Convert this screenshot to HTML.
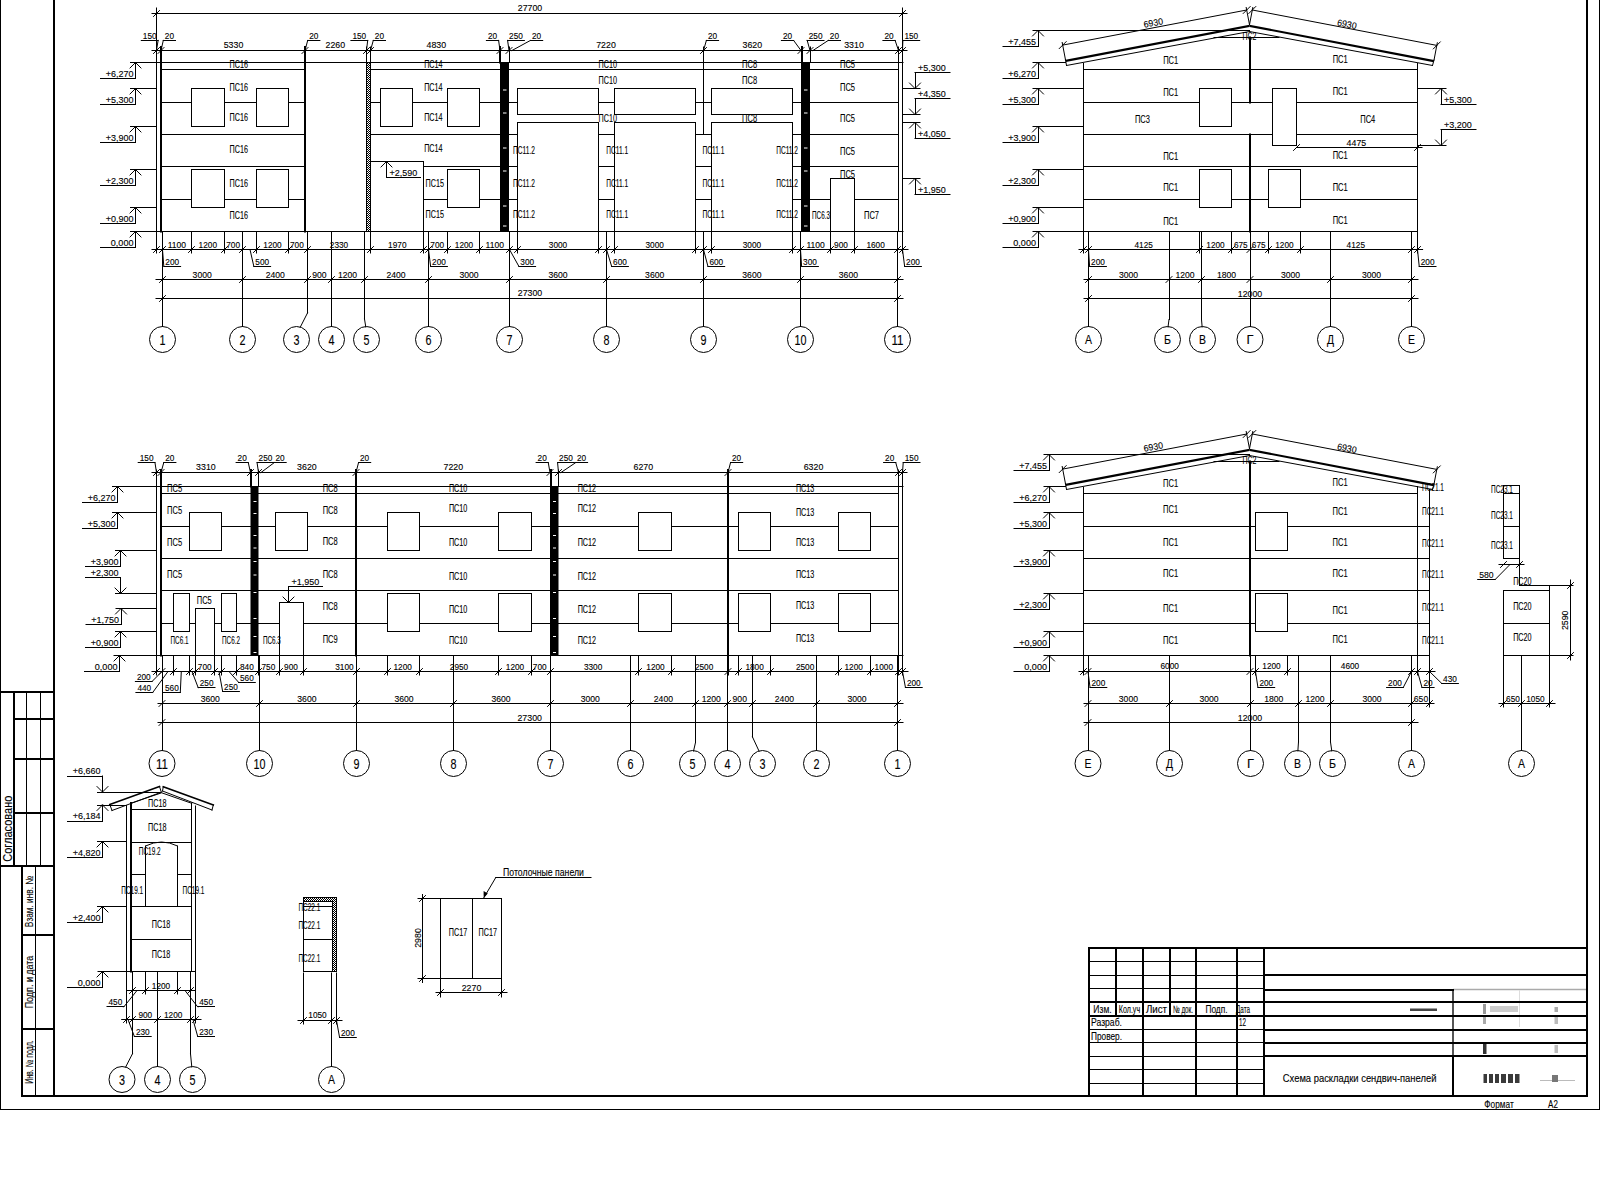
<!DOCTYPE html>
<html><head><meta charset="utf-8"><style>
html,body{margin:0;padding:0;background:#fff;}
svg{display:block;}
</style></head><body>
<svg width="1600" height="1184" viewBox="0 0 1600 1184">
<rect width="1600" height="1184" fill="#fff"/>
<path d="M1453 990L1453 1056" stroke="#555" stroke-width="2"/>
<path d="M1453 989.5L1587 989.5" stroke="#aaa" stroke-width="1.5"/>
<path d="M1519.5 990L1519.5 1027" stroke="#ddd" stroke-width="1"/>
<rect x="1410" y="1008.5" width="27" height="2.5" fill="#444"/>
<rect x="1483.5" y="1074" width="3.5" height="9" fill="#3a3a3a"/>
<rect x="1489" y="1074" width="4" height="9" fill="#3a3a3a"/>
<rect x="1495" y="1074" width="4" height="9" fill="#3a3a3a"/>
<rect x="1501" y="1074" width="5" height="9" fill="#3a3a3a"/>
<rect x="1508" y="1074" width="5" height="9" fill="#3a3a3a"/>
<rect x="1515" y="1074" width="4.5" height="9" fill="#3a3a3a"/>
<rect x="1540" y="1080" width="35" height="1" fill="#bbb"/>
<rect x="1552" y="1075" width="6" height="7" fill="#777"/>
<rect x="1483" y="1044" width="3.5" height="10" fill="#333"/>
<rect x="1483" y="1004" width="3" height="10" fill="#999"/>
<rect x="1483" y="1017" width="3" height="7" fill="#aaa"/>
<rect x="1490" y="1006" width="28" height="6" fill="#ccc"/>
<rect x="1554.5" y="1007" width="3.5" height="5" fill="#aaa"/>
<rect x="1554.5" y="1017" width="3.5" height="7" fill="#bbb"/>
<rect x="1554.5" y="1045" width="3.5" height="8" fill="#bbb"/>
<defs><pattern id="chk" width="2" height="2" patternUnits="userSpaceOnUse"><rect width="1" height="1" fill="#000"/><rect x="1" y="1" width="1" height="1" fill="#000"/></pattern></defs>
<rect x="366.5" y="62" width="4" height="169.5" fill="url(#chk)"/>
<rect x="500" y="62.5" width="9" height="169" fill="#000"/>
<rect x="503" y="89.5" width="3.5" height="1" fill="#fff"/>
<rect x="503" y="112.5" width="3.5" height="1" fill="#fff"/>
<rect x="503" y="147.5" width="3.5" height="1" fill="#fff"/>
<rect x="503" y="170.5" width="3.5" height="1" fill="#fff"/>
<rect x="503" y="205.5" width="3.5" height="1" fill="#fff"/>
<rect x="503" y="225.5" width="3.5" height="1" fill="#fff"/>
<rect x="801" y="62.5" width="9" height="169" fill="#000"/>
<rect x="804" y="89.5" width="3.5" height="1" fill="#fff"/>
<rect x="804" y="112.5" width="3.5" height="1" fill="#fff"/>
<rect x="804" y="147.5" width="3.5" height="1" fill="#fff"/>
<rect x="804" y="170.5" width="3.5" height="1" fill="#fff"/>
<rect x="804" y="205.5" width="3.5" height="1" fill="#fff"/>
<rect x="804" y="225.5" width="3.5" height="1" fill="#fff"/>
<circle cx="162.5" cy="339.5" r="13" fill="none" stroke="#000" stroke-width="1"/>
<circle cx="242.5" cy="339.5" r="13" fill="none" stroke="#000" stroke-width="1"/>
<circle cx="296.5" cy="339.5" r="13" fill="none" stroke="#000" stroke-width="1"/>
<circle cx="331.5" cy="339.5" r="13" fill="none" stroke="#000" stroke-width="1"/>
<circle cx="366.5" cy="339.5" r="13" fill="none" stroke="#000" stroke-width="1"/>
<circle cx="428.5" cy="339.5" r="13" fill="none" stroke="#000" stroke-width="1"/>
<circle cx="509.5" cy="339.5" r="13" fill="none" stroke="#000" stroke-width="1"/>
<circle cx="606.5" cy="339.5" r="13" fill="none" stroke="#000" stroke-width="1"/>
<circle cx="703.5" cy="339.5" r="13" fill="none" stroke="#000" stroke-width="1"/>
<circle cx="800.5" cy="339.5" r="13" fill="none" stroke="#000" stroke-width="1"/>
<circle cx="897.5" cy="339.5" r="13" fill="none" stroke="#000" stroke-width="1"/>
<polygon points="1065.5,59.8 1249.5,24.7 1249.5,26.9 1065.9,62" fill="#000"/>
<polygon points="1249.5,24.7 1434,60.1 1433.6,62.3 1249.5,26.9" fill="#000"/>
<circle cx="1088.5" cy="339.5" r="13" fill="none" stroke="#000" stroke-width="1"/>
<circle cx="1167.5" cy="339.5" r="13" fill="none" stroke="#000" stroke-width="1"/>
<circle cx="1202.5" cy="339.5" r="13" fill="none" stroke="#000" stroke-width="1"/>
<circle cx="1250" cy="339.5" r="13" fill="none" stroke="#000" stroke-width="1"/>
<circle cx="1330.5" cy="339.5" r="13" fill="none" stroke="#000" stroke-width="1"/>
<circle cx="1411.5" cy="339.5" r="13" fill="none" stroke="#000" stroke-width="1"/>
<rect x="250.5" y="486.5" width="8" height="169" fill="#000"/>
<rect x="253.5" y="501" width="3" height="1" fill="#fff"/>
<rect x="253.5" y="513" width="3" height="1" fill="#fff"/>
<rect x="253.5" y="535" width="3" height="1" fill="#fff"/>
<rect x="253.5" y="547.5" width="3" height="1" fill="#fff"/>
<rect x="253.5" y="561" width="3" height="1" fill="#fff"/>
<rect x="253.5" y="574.5" width="3" height="1" fill="#fff"/>
<rect x="253.5" y="592" width="3" height="1" fill="#fff"/>
<rect x="253.5" y="618" width="3" height="1" fill="#fff"/>
<rect x="253.5" y="636" width="3" height="1" fill="#fff"/>
<rect x="253.5" y="652" width="3" height="1" fill="#fff"/>
<rect x="550" y="486.5" width="8.5" height="169" fill="#000"/>
<rect x="553" y="501" width="3" height="1" fill="#fff"/>
<rect x="553" y="513" width="3" height="1" fill="#fff"/>
<rect x="553" y="535" width="3" height="1" fill="#fff"/>
<rect x="553" y="547.5" width="3" height="1" fill="#fff"/>
<rect x="553" y="561" width="3" height="1" fill="#fff"/>
<rect x="553" y="574.5" width="3" height="1" fill="#fff"/>
<rect x="553" y="592" width="3" height="1" fill="#fff"/>
<rect x="553" y="618" width="3" height="1" fill="#fff"/>
<rect x="553" y="636" width="3" height="1" fill="#fff"/>
<rect x="553" y="652" width="3" height="1" fill="#fff"/>
<circle cx="162" cy="763.5" r="13" fill="none" stroke="#000" stroke-width="1"/>
<circle cx="259.5" cy="763.5" r="13" fill="none" stroke="#000" stroke-width="1"/>
<circle cx="356.5" cy="763.5" r="13" fill="none" stroke="#000" stroke-width="1"/>
<circle cx="453.5" cy="763.5" r="13" fill="none" stroke="#000" stroke-width="1"/>
<circle cx="550.5" cy="763.5" r="13" fill="none" stroke="#000" stroke-width="1"/>
<circle cx="630.5" cy="763.5" r="13" fill="none" stroke="#000" stroke-width="1"/>
<circle cx="692.5" cy="763.5" r="13" fill="none" stroke="#000" stroke-width="1"/>
<circle cx="727.5" cy="763.5" r="13" fill="none" stroke="#000" stroke-width="1"/>
<circle cx="762.5" cy="763.5" r="13" fill="none" stroke="#000" stroke-width="1"/>
<circle cx="816.5" cy="763.5" r="13" fill="none" stroke="#000" stroke-width="1"/>
<circle cx="897.5" cy="763.5" r="13" fill="none" stroke="#000" stroke-width="1"/>
<polygon points="1065.5,483.8 1249.5,448.7 1249.5,450.9 1065.9,486" fill="#000"/>
<polygon points="1249.5,448.7 1434,484.1 1433.6,486.3 1249.5,450.9" fill="#000"/>
<circle cx="1088" cy="763.5" r="13" fill="none" stroke="#000" stroke-width="1"/>
<circle cx="1169.5" cy="763.5" r="13" fill="none" stroke="#000" stroke-width="1"/>
<circle cx="1250.5" cy="763.5" r="13" fill="none" stroke="#000" stroke-width="1"/>
<circle cx="1297.5" cy="763.5" r="13" fill="none" stroke="#000" stroke-width="1"/>
<circle cx="1332.5" cy="763.5" r="13" fill="none" stroke="#000" stroke-width="1"/>
<circle cx="1411.5" cy="763.5" r="13" fill="none" stroke="#000" stroke-width="1"/>
<circle cx="1521.5" cy="763.5" r="13" fill="none" stroke="#000" stroke-width="1"/>
<path d="M145.5 846 Q161.5 838 177.5 846" fill="none" stroke="#000" stroke-width="1"/>
<circle cx="122" cy="1079.5" r="13" fill="none" stroke="#000" stroke-width="1"/>
<circle cx="157.5" cy="1079.5" r="13" fill="none" stroke="#000" stroke-width="1"/>
<circle cx="192.5" cy="1079.5" r="13" fill="none" stroke="#000" stroke-width="1"/>
<rect x="303.5" y="897.5" width="33" height="4" fill="url(#chk)"/>
<rect x="332.5" y="897.5" width="4" height="74" fill="url(#chk)"/>
<circle cx="331.5" cy="1079.5" r="13" fill="none" stroke="#000" stroke-width="1"/>
<polygon points="483.7,898 483.6,891 487.8,893.5" fill="#000"/>
<path d="M0.5 0L0.5 1109.5M1599.5 0L1599.5 1109.5M0.5 1109.5L1599.5 1109.5M26.5 692L26.5 866M40.5 692L40.5 866M35.5 866L35.5 1096M1089 961.5L1264 961.5M1089 975.5L1264 975.5M1089 988.5L1264 988.5M1089 1029.5L1264 1029.5M1089 1042.5L1264 1042.5M1089 1056.5L1264 1056.5M1089 1069.5L1264 1069.5M1089 1083.5L1264 1083.5M156.5 8L156.5 231.5M366.5 47L366.5 231.5M370.5 47L370.5 231.5M509.5 47L509.5 62.5M810.5 47L810.5 62.5M898.5 47L898.5 231.5M902.5 8L902.5 231.5M156 62.5L903 62.5M131 231.5L903 231.5M161 69.5L305 69.5M371 69.5L500 69.5M509 69.5L898.5 69.5M161 102.5L191.5 102.5M224.5 102.5L256.5 102.5M288.5 102.5L305 102.5M371 102.5L380.5 102.5M412.5 102.5L447.5 102.5M479.5 102.5L500 102.5M509 102.5L517.5 102.5M598.5 102.5L614.5 102.5M695.5 102.5L711.5 102.5M792.5 102.5L801 102.5M810 102.5L898.5 102.5M161 134.5L305 134.5M371 134.5L500 134.5M509 134.5L517.5 134.5M598.5 134.5L614.5 134.5M695.5 134.5L711.5 134.5M792.5 134.5L801 134.5M810 134.5L898.5 134.5M161 166.5L305 166.5M423.5 166.5L500 166.5M509 166.5L517.5 166.5M598.5 166.5L614.5 166.5M695.5 166.5L711.5 166.5M792.5 166.5L801 166.5M810 166.5L898.5 166.5M161 199.5L191.5 199.5M224.5 199.5L256.5 199.5M288.5 199.5L305 199.5M423.5 199.5L447.5 199.5M479.5 199.5L500 199.5M509 199.5L517.5 199.5M598.5 199.5L614.5 199.5M695.5 199.5L711.5 199.5M792.5 199.5L801 199.5M810 199.5L830.5 199.5M854.5 199.5L898.5 199.5M371 161.5L423.5 161.5M191.5 88.5L224.5 88.5M224.5 88.5L224.5 126.5M224.5 126.5L191.5 126.5M191.5 126.5L191.5 88.5M191.5 169.5L224.5 169.5M224.5 169.5L224.5 207.5M224.5 207.5L191.5 207.5M191.5 207.5L191.5 169.5M256.5 88.5L288.5 88.5M288.5 88.5L288.5 126.5M288.5 126.5L256.5 126.5M256.5 126.5L256.5 88.5M256.5 169.5L288.5 169.5M288.5 169.5L288.5 207.5M288.5 207.5L256.5 207.5M256.5 207.5L256.5 169.5M380.5 88.5L412.5 88.5M412.5 88.5L412.5 126.5M412.5 126.5L380.5 126.5M380.5 126.5L380.5 88.5M447.5 88.5L479.5 88.5M479.5 88.5L479.5 126.5M479.5 126.5L447.5 126.5M447.5 126.5L447.5 88.5M447.5 169.5L479.5 169.5M479.5 169.5L479.5 207.5M479.5 207.5L447.5 207.5M447.5 207.5L447.5 169.5M517.5 88.5L598.5 88.5M598.5 88.5L598.5 114.5M598.5 114.5L517.5 114.5M517.5 114.5L517.5 88.5M517.5 122.5L517.5 231.5M598.5 122.5L598.5 231.5M517.5 122.5L598.5 122.5M614.5 88.5L695.5 88.5M695.5 88.5L695.5 114.5M695.5 114.5L614.5 114.5M614.5 114.5L614.5 88.5M614.5 122.5L614.5 231.5M695.5 122.5L695.5 231.5M614.5 122.5L695.5 122.5M711.5 88.5L792.5 88.5M792.5 88.5L792.5 114.5M792.5 114.5L711.5 114.5M711.5 114.5L711.5 88.5M711.5 122.5L711.5 231.5M792.5 122.5L792.5 231.5M711.5 122.5L792.5 122.5M423.5 161.5L423.5 231.5M830.5 178.5L830.5 231.5M854.5 178.5L854.5 231.5M830.5 178.5L854.5 178.5M703.5 47L703.5 134.5M130 68L135.5 62.5M135.5 62.5L141 68M135.5 62.5L135.5 78.5M100.5 78.5L135.5 78.5M130.5 62.5L156.5 62.5M130 94L135.5 88.5M135.5 88.5L141 94M135.5 88.5L135.5 104.5M100.5 104.5L135.5 104.5M130.5 88.5L156.5 88.5M130 132L135.5 126.5M135.5 126.5L141 132M135.5 126.5L135.5 142.5M100.5 142.5L135.5 142.5M130.5 126.5L156.5 126.5M130 175L135.5 169.5M135.5 169.5L141 175M135.5 169.5L135.5 185.5M100.5 185.5L135.5 185.5M130.5 169.5L156.5 169.5M130 213L135.5 207.5M135.5 207.5L141 213M135.5 207.5L135.5 223.5M100.5 223.5L135.5 223.5M130.5 207.5L156.5 207.5M130 237L135.5 231.5M135.5 231.5L141 237M135.5 231.5L135.5 247.5M100.5 247.5L135.5 247.5M130.5 231.5L156.5 231.5M909.5 83L915 88.5M915 88.5L920.5 83M915.5 88.5L915.5 72.5M915 72.5L950 72.5M902.5 88.5L920 88.5M909.5 109L915 114.5M915 114.5L920.5 109M915.5 114.5L915.5 98.5M915 98.5L950 98.5M902.5 114.5L920 114.5M909.5 128L915 122.5M915 122.5L920.5 128M915.5 122.5L915.5 138.5M915 138.5L950 138.5M902.5 122.5L920 122.5M909.5 184L915 178.5M915 178.5L920.5 184M915.5 178.5L915.5 194.5M915 194.5L950 194.5M902.5 178.5L920 178.5M152 13.5L907 13.5M153.5 16.5L159.5 10.5M899.5 16.5L905.5 10.5M152 50.5L907 50.5M153.5 53.5L159.5 47.5M158 53.5L164 47.5M302 53.5L308 47.5M363.5 53.5L369.5 47.5M367.5 53.5L373.5 47.5M497 53.5L503 47.5M506 53.5L512 47.5M700.5 53.5L706.5 47.5M798 53.5L804 47.5M807 53.5L813 47.5M895.5 53.5L901.5 47.5M899.5 53.5L905.5 47.5M141.3 40.5L158.1 40.5M158.1 40.4L156.5 50.5M163.3 40.5L175.5 40.5M163.3 40.4L161 50.5M307.7 40.5L319.9 40.5M307.7 40.4L305 50.5M350.9 40.5L367.7 40.5M367.7 40.4L366.5 50.5M373.3 40.5L385.5 40.5M373.3 40.4L370.5 50.5M486.4 40.5L498.6 40.5M498.6 40.4L500 50.5M507.6 40.5L524.4 40.5M507.6 40.4L509 50.5M530.5 40.5L542.7 40.5M530.5 40.4L512 50.5M706.4 40.5L718.6 40.5M706.4 40.4L703.5 50.5M781.4 40.5L793.6 40.5M793.6 40.4L801 50.5M807.2 40.5L824 40.5M807.2 40.4L810 50.5M828.3 40.5L840.5 40.5M828.3 40.4L813 50.5M882.9 40.5L895.1 40.5M895.1 40.4L898.5 50.5M902.9 40.5L919.7 40.5M902.9 40.4L902.5 50.5M152 249.5L908 249.5M156.5 231.5L156.5 253M153.5 252.5L159.5 246.5M162.5 231.5L162.5 253M159.5 252.5L165.5 246.5M191.5 231.5L191.5 253M188.5 252.5L194.5 246.5M224.5 231.5L224.5 253M221.5 252.5L227.5 246.5M242.5 231.5L242.5 253M239.5 252.5L245.5 246.5M256.5 231.5L256.5 253M253.5 252.5L259.5 246.5M288.5 231.5L288.5 253M285.5 252.5L291.5 246.5M307.5 231.5L307.5 253M304.5 252.5L310.5 246.5M370.5 231.5L370.5 253M367.5 252.5L373.5 246.5M423.5 231.5L423.5 253M420.5 252.5L426.5 246.5M428.5 231.5L428.5 253M425.5 252.5L431.5 246.5M447.5 231.5L447.5 253M444.5 252.5L450.5 246.5M479.5 231.5L479.5 253M476.5 252.5L482.5 246.5M509.5 231.5L509.5 253M506.5 252.5L512.5 246.5M517.5 231.5L517.5 253M514.5 252.5L520.5 246.5M598.5 231.5L598.5 253M595.5 252.5L601.5 246.5M606.5 231.5L606.5 253M603.5 252.5L609.5 246.5M614.5 231.5L614.5 253M611.5 252.5L617.5 246.5M695.5 231.5L695.5 253M692.5 252.5L698.5 246.5M703.5 231.5L703.5 253M700.5 252.5L706.5 246.5M711.5 231.5L711.5 253M708.5 252.5L714.5 246.5M792.5 231.5L792.5 253M789.5 252.5L795.5 246.5M800.5 231.5L800.5 253M797.5 252.5L803.5 246.5M830.5 231.5L830.5 253M827.5 252.5L833.5 246.5M854.5 231.5L854.5 253M851.5 252.5L857.5 246.5M897.5 231.5L897.5 253M894.5 252.5L900.5 246.5M902.5 231.5L902.5 253M899.5 252.5L905.5 246.5M163.8 266.5L180.6 266.5M163.8 266.2L162.5 249.5M253.8 266.5L270.6 266.5M253.8 266.2L250 249.5M430.6 266.5L447.4 266.5M430.6 266.2L428.5 249.5M518.8 266.5L535.6 266.5M518.8 266.2L509.5 249.5M611.6 266.5L628.4 266.5M611.6 266.2L606.5 249.5M707.9 266.5L724.7 266.5M707.9 266.2L703.5 249.5M801.6 266.5L818.4 266.5M801.6 266.2L800.5 249.5M904.6 266.5L921.4 266.5M904.6 266.2L902.5 249.5M156 279.5L903 279.5M159.5 282.5L165.5 276.5M239.5 282.5L245.5 276.5M304.5 282.5L310.5 276.5M328.5 282.5L334.5 276.5M361.5 282.5L367.5 276.5M425.5 282.5L431.5 276.5M506.5 282.5L512.5 276.5M603.5 282.5L609.5 276.5M700.5 282.5L706.5 276.5M797.5 282.5L803.5 276.5M894.5 282.5L900.5 276.5M156 298.5L903 298.5M159.5 301.5L165.5 295.5M894.5 301.5L900.5 295.5M162.5 231.5L162.5 326.5M242.5 231.5L242.5 326.5M307.5 231.5L307.5 313M307.5 313L300.35 327M331.5 231.5L331.5 326.5M364.5 231.5L364.5 319M364.5 319L365.8 327M428.5 231.5L428.5 326.5M509.5 231.5L509.5 326.5M606.5 231.5L606.5 326.5M703.5 231.5L703.5 326.5M800.5 231.5L800.5 326.5M897.5 231.5L897.5 326.5M381 167L386.5 161.5M386.5 161.5L392 167M386.5 161.5L386.5 177.5M386.5 177.5L420.5 177.5M1066.5 65.5L1249.5 31.5M1249.5 31.5L1432.5 65.5M1065.5 59.8L1066.5 65.5M1434 60.1L1432.5 65.5M1214 37.5L1279 37.5M1062.7 45.1L1246.7 10M1252.3 10L1436.8 45.4M1065.5 59.8L1062.2 42.5M1434 60.1L1437.3 42.8M1249.5 24.7L1246.2 7.5M1249.5 24.7L1252.8 7.5M1059.2 48.6L1066.2 41.6M1243.2 13.5L1250.2 6.5M1248.8 13.5L1255.8 6.5M1433.3 48.9L1440.3 41.9M1083.5 63.5L1083.5 231.5M1417.5 63.5L1417.5 231.5M1083.5 69.5L1417.5 69.5M1083.5 102.5L1199.5 102.5M1231.5 102.5L1272.5 102.5M1296.5 102.5L1417.5 102.5M1083.5 134.5L1272.5 134.5M1296.5 134.5L1417.5 134.5M1083.5 166.5L1417.5 166.5M1083.5 199.5L1199.5 199.5M1231.5 199.5L1268.5 199.5M1300.5 199.5L1417.5 199.5M1199.5 88.5L1231.5 88.5M1231.5 88.5L1231.5 126.5M1231.5 126.5L1199.5 126.5M1199.5 126.5L1199.5 88.5M1272.5 88.5L1296.5 88.5M1296.5 88.5L1296.5 145.5M1296.5 145.5L1272.5 145.5M1272.5 145.5L1272.5 88.5M1199.5 169.5L1231.5 169.5M1231.5 169.5L1231.5 207.5M1231.5 207.5L1199.5 207.5M1199.5 207.5L1199.5 169.5M1268.5 169.5L1300.5 169.5M1300.5 169.5L1300.5 207.5M1300.5 207.5L1268.5 207.5M1268.5 207.5L1268.5 169.5M1034 231.5L1417.5 231.5M1032.5 36L1038 30.5M1038 30.5L1043.5 36M1038.5 30.5L1038.5 46.5M1003 46.5L1038 46.5M1033 30.5L1249.5 30.5M1032.5 68L1038 62.5M1038 62.5L1043.5 68M1038.5 62.5L1038.5 78.5M1003 78.5L1038 78.5M1033 62.5L1065.5 62.5M1032.5 94L1038 88.5M1038 88.5L1043.5 94M1038.5 88.5L1038.5 104.5M1003 104.5L1038 104.5M1033 88.5L1083.5 88.5M1032.5 132L1038 126.5M1038 126.5L1043.5 132M1038.5 126.5L1038.5 142.5M1003 142.5L1038 142.5M1033 126.5L1083.5 126.5M1032.5 175L1038 169.5M1038 169.5L1043.5 175M1038.5 169.5L1038.5 185.5M1003 185.5L1038 185.5M1033 169.5L1083.5 169.5M1032.5 213L1038 207.5M1038 207.5L1043.5 213M1038.5 207.5L1038.5 223.5M1003 223.5L1038 223.5M1033 207.5L1083.5 207.5M1032.5 237L1038 231.5M1038 231.5L1043.5 237M1038.5 231.5L1038.5 247.5M1003 247.5L1038 247.5M1033 231.5L1083.5 231.5M1435.5 94L1441 88.5M1441 88.5L1446.5 94M1441.5 88.5L1441.5 104.5M1441 104.5L1476 104.5M1417.5 88.5L1446 88.5M1435.5 140L1441 145.5M1441 145.5L1446.5 140M1441.5 145.5L1441.5 129.5M1441 129.5L1476 129.5M1417.5 145.5L1446 145.5M1296.5 147.5L1422 147.5M1293.5 150.5L1299.5 144.5M1414.5 150.5L1420.5 144.5M1079 249.5L1422.6 249.5M1083.5 231.5L1083.5 253M1080.5 252.5L1086.5 246.5M1088.5 231.5L1088.5 253M1085.5 252.5L1091.5 246.5M1199.5 231.5L1199.5 253M1196.5 252.5L1202.5 246.5M1231.5 231.5L1231.5 253M1228.5 252.5L1234.5 246.5M1250.5 231.5L1250.5 253M1247 252.5L1253 246.5M1268.5 231.5L1268.5 253M1265.5 252.5L1271.5 246.5M1300.5 231.5L1300.5 253M1297.5 252.5L1303.5 246.5M1411.5 231.5L1411.5 253M1408.5 252.5L1414.5 246.5M1417.5 231.5L1417.5 253M1414.5 252.5L1420.5 246.5M1089.6 266.5L1106.4 266.5M1089.6 266.2L1088.5 249.5M1419.2 266.5L1436 266.5M1419.2 266.2L1417.5 249.5M1084 279.5L1418 279.5M1085.5 282.5L1091.5 276.5M1166 282.5L1172 276.5M1198.5 282.5L1204.5 276.5M1247 282.5L1253 276.5M1327.5 282.5L1333.5 276.5M1408.5 282.5L1414.5 276.5M1084 298.5L1418 298.5M1085.5 301.5L1091.5 295.5M1408.5 301.5L1414.5 295.5M1088.5 231.5L1088.5 326.5M1169.5 231.5L1169.5 319.5M1169 319.5L1168.03 327M1201.5 231.5L1201.5 319.5M1201.5 319.5L1202.15 327M1250.5 231.5L1250.5 326.5M1330.5 231.5L1330.5 326.5M1411.5 231.5L1411.5 326.5M156.5 470L156.5 655.5M258.5 470L258.5 486.5M558.5 470L558.5 486.5M898.5 470L898.5 655.5M902.5 470L902.5 655.5M156 486.5L903 486.5M114 655.5L903 655.5M161 493.5L250.5 493.5M258.5 493.5L898.5 493.5M161 526.5L189.5 526.5M221.5 526.5L250.5 526.5M258.5 526.5L275.5 526.5M307.5 526.5L356 526.5M356 526.5L387.5 526.5M419.5 526.5L498.5 526.5M531.5 526.5L550 526.5M558.5 526.5L638.5 526.5M671.5 526.5L728 526.5M728 526.5L738.5 526.5M770.5 526.5L838.5 526.5M870.5 526.5L898.5 526.5M161 558.5L250.5 558.5M258.5 558.5L550 558.5M558.5 558.5L898.5 558.5M161 590.5L250.5 590.5M258.5 590.5L550 590.5M558.5 590.5L898.5 590.5M161 623.5L173.5 623.5M189.5 623.5L195.5 623.5M214.5 623.5L221.5 623.5M236.5 623.5L250.5 623.5M258.5 623.5L279.5 623.5M303.5 623.5L356 623.5M356 623.5L387.5 623.5M419.5 623.5L498.5 623.5M531.5 623.5L550 623.5M558.5 623.5L638.5 623.5M671.5 623.5L728 623.5M728 623.5L738.5 623.5M770.5 623.5L838.5 623.5M870.5 623.5L898.5 623.5M189.5 512.5L221.5 512.5M221.5 512.5L221.5 550.5M221.5 550.5L189.5 550.5M189.5 550.5L189.5 512.5M275.5 512.5L307.5 512.5M307.5 512.5L307.5 550.5M307.5 550.5L275.5 550.5M275.5 550.5L275.5 512.5M387.5 512.5L419.5 512.5M419.5 512.5L419.5 550.5M419.5 550.5L387.5 550.5M387.5 550.5L387.5 512.5M498.5 512.5L531.5 512.5M531.5 512.5L531.5 550.5M531.5 550.5L498.5 550.5M498.5 550.5L498.5 512.5M638.5 512.5L671.5 512.5M671.5 512.5L671.5 550.5M671.5 550.5L638.5 550.5M638.5 550.5L638.5 512.5M738.5 512.5L770.5 512.5M770.5 512.5L770.5 550.5M770.5 550.5L738.5 550.5M738.5 550.5L738.5 512.5M838.5 512.5L870.5 512.5M870.5 512.5L870.5 550.5M870.5 550.5L838.5 550.5M838.5 550.5L838.5 512.5M387.5 593.5L419.5 593.5M419.5 593.5L419.5 631.5M419.5 631.5L387.5 631.5M387.5 631.5L387.5 593.5M498.5 593.5L531.5 593.5M531.5 593.5L531.5 631.5M531.5 631.5L498.5 631.5M498.5 631.5L498.5 593.5M638.5 593.5L671.5 593.5M671.5 593.5L671.5 631.5M671.5 631.5L638.5 631.5M638.5 631.5L638.5 593.5M738.5 593.5L770.5 593.5M770.5 593.5L770.5 631.5M770.5 631.5L738.5 631.5M738.5 631.5L738.5 593.5M838.5 593.5L870.5 593.5M870.5 593.5L870.5 631.5M870.5 631.5L838.5 631.5M838.5 631.5L838.5 593.5M173.5 593.5L189.5 593.5M189.5 593.5L189.5 631.5M189.5 631.5L173.5 631.5M173.5 631.5L173.5 593.5M221.5 593.5L236.5 593.5M236.5 593.5L236.5 631.5M236.5 631.5L221.5 631.5M221.5 631.5L221.5 593.5M195.5 608.5L195.5 655.5M214.5 608.5L214.5 655.5M195.5 608.5L214.5 608.5M279.5 602.5L279.5 655.5M303.5 602.5L303.5 655.5M279.5 602.5L303.5 602.5M112 492L117.5 486.5M117.5 486.5L123 492M117.5 486.5L117.5 502.5M82.5 502.5L117.5 502.5M112.5 486.5L156.5 486.5M112 518L117.5 512.5M117.5 512.5L123 518M117.5 512.5L117.5 528.5M82.5 528.5L117.5 528.5M112.5 512.5L156.5 512.5M115 556L120.5 550.5M120.5 550.5L126 556M120.5 550.5L120.5 566.5M85.5 566.5L120.5 566.5M115.5 550.5L156.5 550.5M115 588L120.5 593.5M120.5 593.5L126 588M120.5 593.5L120.5 577.5M85.5 577.5L120.5 577.5M115.5 593.5L156.5 593.5M115.5 614L121 608.5M121 608.5L126.5 614M121.5 608.5L121.5 624.5M86 624.5L121 624.5M116 608.5L156.5 608.5M115 637L120.5 631.5M120.5 631.5L126 637M120.5 631.5L120.5 647.5M85.5 647.5L120.5 647.5M115.5 631.5L156.5 631.5M114 661L119.5 655.5M119.5 655.5L125 661M119.5 655.5L119.5 671.5M84.5 671.5L119.5 671.5M283 597L288.5 602.5M288.5 602.5L294 597M288.5 602.5L288.5 586.5M288.5 586.5L322.5 586.5M152 472.5L907 472.5M153.5 475.5L159.5 469.5M158 475.5L164 469.5M247.5 475.5L253.5 469.5M255.5 475.5L261.5 469.5M353 475.5L359 469.5M547 475.5L553 469.5M555.5 475.5L561.5 469.5M725 475.5L731 469.5M895.5 475.5L901.5 469.5M899.5 475.5L905.5 469.5M138.2 462.5L155 462.5M155 462.8L156.5 472.5M163.7 462.5L175.9 462.5M163.7 462.8L161 472.5M236.1 462.5L248.3 462.5M248.3 462.8L250.5 472.5M257.1 462.5L273.9 462.5M257.1 462.8L258.5 472.5M274 462.5L286.2 462.5M274 462.8L261 472.5M358.5 462.5L370.7 462.5M358.5 462.8L356 472.5M536.1 462.5L548.3 462.5M548.3 462.8L550 472.5M557.6 462.5L574.4 462.5M557.6 462.8L558.5 472.5M575.4 462.5L587.6 462.5M575.4 462.8L561 472.5M730.5 462.5L742.7 462.5M730.5 462.8L728 472.5M883.6 462.5L895.8 462.5M895.8 462.8L898.5 472.5M903.2 462.5L920 462.5M903.2 462.8L902.5 472.5M152 671.5L908 671.5M156.5 655.5L156.5 675M153.5 674.5L159.5 668.5M162.5 655.5L162.5 675M159 674.5L165 668.5M173.5 655.5L173.5 675M170.5 674.5L176.5 668.5M189.5 655.5L189.5 675M186.5 674.5L192.5 668.5M195.5 655.5L195.5 675M192.5 674.5L198.5 668.5M214.5 655.5L214.5 675M211.5 674.5L217.5 668.5M221.5 655.5L221.5 675M218.5 674.5L224.5 668.5M236.5 655.5L236.5 675M233.5 674.5L239.5 668.5M258.5 655.5L258.5 675M255.5 674.5L261.5 668.5M279.5 655.5L279.5 675M276.5 674.5L282.5 668.5M303.5 655.5L303.5 675M300.5 674.5L306.5 668.5M356.5 655.5L356.5 675M353.5 674.5L359.5 668.5M387.5 655.5L387.5 675M384.5 674.5L390.5 668.5M419.5 655.5L419.5 675M416.5 674.5L422.5 668.5M498.5 655.5L498.5 675M495.5 674.5L501.5 668.5M531.5 655.5L531.5 675M528.5 674.5L534.5 668.5M550.5 655.5L550.5 675M547.5 674.5L553.5 668.5M638.5 655.5L638.5 675M635.5 674.5L641.5 668.5M671.5 655.5L671.5 675M668.5 674.5L674.5 668.5M728.5 655.5L728.5 675M725 674.5L731 668.5M738.5 655.5L738.5 675M735.5 674.5L741.5 668.5M770.5 655.5L770.5 675M767.5 674.5L773.5 668.5M838.5 655.5L838.5 675M835.5 674.5L841.5 668.5M870.5 655.5L870.5 675M867.5 674.5L873.5 668.5M898.5 655.5L898.5 675M895.5 674.5L901.5 668.5M902.5 655.5L902.5 675M899.5 674.5L905.5 668.5M135.4 681.5L152.2 681.5M152.2 681.3L162 671.5M135.9 692.5L152.7 692.5M152.7 692.5L168 671.5M163.5 692.5L180.3 692.5M180.3 692.5L181.3 671.5M198.2 687.5L215 687.5M198.2 687.7L192 671.5M222.6 691.5L239.4 691.5M222.6 691.2L219 671.5M238.5 682.5L255.3 682.5M238.5 682.2L229 671.5M905.4 687.5L922.2 687.5M905.4 687.2L902.5 671.5M158 703.5L903 703.5M159 706.5L165 700.5M256.5 706.5L262.5 700.5M353.5 706.5L359.5 700.5M450.5 706.5L456.5 700.5M547.5 706.5L553.5 700.5M627.5 706.5L633.5 700.5M692.5 706.5L698.5 700.5M724.5 706.5L730.5 700.5M749.5 706.5L755.5 700.5M813.5 706.5L819.5 700.5M894.5 706.5L900.5 700.5M158 722.5L903 722.5M159 725.5L165 719.5M894.5 725.5L900.5 719.5M162.5 655.5L162.5 750.5M259.5 655.5L259.5 750.5M356.5 655.5L356.5 750.5M453.5 655.5L453.5 750.5M550.5 655.5L550.5 750.5M630.5 655.5L630.5 750.5M695.5 655.5L695.5 742.5M695.5 742.5L693.55 751M727.5 655.5L727.5 750.5M752.5 655.5L752.5 737M752.5 737L759 751M816.5 655.5L816.5 750.5M897.5 655.5L897.5 750.5M1066.5 489.5L1249.5 455.5M1249.5 455.5L1432.5 489.5M1065.5 483.8L1066.5 489.5M1434 484.1L1432.5 489.5M1214 461.5L1279 461.5M1062.7 469.1L1246.7 434M1252.3 434L1436.8 469.4M1065.5 483.8L1062.2 466.5M1434 484.1L1437.3 466.8M1249.5 448.7L1246.2 431.5M1249.5 448.7L1252.8 431.5M1059.2 472.6L1066.2 465.6M1243.2 437.5L1250.2 430.5M1248.8 437.5L1255.8 430.5M1433.3 472.9L1440.3 465.9M1083.5 487.5L1083.5 655.5M1417.5 486.5L1417.5 655.5M1429.5 489.5L1429.5 655.5M1083.5 493.5L1417.5 493.5M1083.5 526.5L1255.5 526.5M1287.5 526.5L1429.5 526.5M1083.5 558.5L1429.5 558.5M1083.5 590.5L1429.5 590.5M1083.5 623.5L1255.5 623.5M1287.5 623.5L1429.5 623.5M1255.5 512.5L1287.5 512.5M1287.5 512.5L1287.5 550.5M1287.5 550.5L1255.5 550.5M1255.5 550.5L1255.5 512.5M1255.5 593.5L1287.5 593.5M1287.5 593.5L1287.5 631.5M1287.5 631.5L1255.5 631.5M1255.5 631.5L1255.5 593.5M1045 655.5L1429.5 655.5M1043.5 460L1049 454.5M1049 454.5L1054.5 460M1049.5 454.5L1049.5 470.5M1014 470.5L1049 470.5M1044 454.5L1249.5 454.5M1043.5 492L1049 486.5M1049 486.5L1054.5 492M1049.5 486.5L1049.5 502.5M1014 502.5L1049 502.5M1044 486.5L1065.5 486.5M1043.5 518L1049 512.5M1049 512.5L1054.5 518M1049.5 512.5L1049.5 528.5M1014 528.5L1049 528.5M1044 512.5L1083.5 512.5M1043.5 556L1049 550.5M1049 550.5L1054.5 556M1049.5 550.5L1049.5 566.5M1014 566.5L1049 566.5M1044 550.5L1083.5 550.5M1043.5 599L1049 593.5M1049 593.5L1054.5 599M1049.5 593.5L1049.5 609.5M1014 609.5L1049 609.5M1044 593.5L1083.5 593.5M1043.5 637L1049 631.5M1049 631.5L1054.5 637M1049.5 631.5L1049.5 647.5M1014 647.5L1049 647.5M1044 631.5L1083.5 631.5M1043.5 661L1049 655.5M1049 655.5L1054.5 661M1049.5 655.5L1049.5 671.5M1014 671.5L1049 671.5M1044 655.5L1083.5 655.5M1079 671.5L1435 671.5M1083.5 655.5L1083.5 675M1080.5 674.5L1086.5 668.5M1088.5 655.5L1088.5 675M1085 674.5L1091 668.5M1250.5 655.5L1250.5 675M1247 674.5L1253 668.5M1255.5 655.5L1255.5 675M1252.5 674.5L1258.5 668.5M1287.5 655.5L1287.5 675M1284.5 674.5L1290.5 668.5M1411.5 655.5L1411.5 675M1408.5 674.5L1414.5 668.5M1417.5 655.5L1417.5 675M1414.5 674.5L1420.5 668.5M1429.5 655.5L1429.5 675M1426.5 674.5L1432.5 668.5M1090 687.5L1106.8 687.5M1090 687.2L1088 671.5M1257.9 687.5L1274.7 687.5M1257.9 687.2L1255.5 671.5M1386.6 687.5L1403.4 687.5M1403.4 687.2L1411.5 671.5M1421.9 687.5L1434.1 687.5M1421.9 687.2L1417.5 671.5M1441.6 683.5L1458.4 683.5M1441.6 683.3L1429.5 671.5M1084 703.5L1434 703.5M1085 706.5L1091 700.5M1166.5 706.5L1172.5 700.5M1247.5 706.5L1253.5 700.5M1295.5 706.5L1301.5 700.5M1327.5 706.5L1333.5 700.5M1408.5 706.5L1414.5 700.5M1426.5 706.5L1432.5 700.5M1429.5 671.5L1429.5 707M1084 722.5L1418 722.5M1085 725.5L1091 719.5M1408.5 725.5L1414.5 719.5M1088.5 655.5L1088.5 750.5M1169.5 655.5L1169.5 750.5M1250.5 655.5L1250.5 750.5M1298.5 655.5L1298.5 742M1298.5 742L1297.85 751M1330.5 655.5L1330.5 742M1330.5 742L1331.8 751M1411.5 655.5L1411.5 750.5M1503.5 485.5L1503.5 558.5M1519.5 485.5L1519.5 585.5M1503.5 485.5L1519.5 485.5M1503.5 493.5L1519.5 493.5M1503.5 526.5L1519.5 526.5M1503.5 558.5L1519.5 558.5M1499 564.5L1524 564.5M1500.5 567.5L1506.5 561.5M1516.5 567.5L1522.5 561.5M1477.7 579.5L1495.1 579.5M1495.1 579.6L1510 564.5M1519.5 585.5L1573 585.5M1503.5 590.5L1549.5 590.5M1503.5 623.5L1549.5 623.5M1503.5 655.5L1549.5 655.5M1503.5 590.5L1503.5 707M1549.5 585.5L1549.5 707M1521.5 655.5L1521.5 750.5M1570.5 580L1570.5 660M1567.5 588.5L1573.5 582.5M1567.5 658.5L1573.5 652.5M1499 703.5L1555 703.5M1500.5 706.5L1506.5 700.5M1518.5 706.5L1524.5 700.5M1546.5 706.5L1552.5 700.5M1549.5 655.5L1573 655.5M126.5 806L126.5 971.5M191.5 803L191.5 971.5M195.5 806L195.5 971.5M131 809.5L191.5 809.5M131 842.5L191.5 842.5M131 906.5L191.5 906.5M131 939.5L191.5 939.5M131 874.5L145.5 874.5M177.5 874.5L191.5 874.5M98 971.5L195.5 971.5M145.5 846L145.5 906.5M177.5 846L177.5 906.5M159.5 786.5L161.3 792.2M161.3 792.2L112 810.5M112 810.5L109.8 804.5M213.3 805L212 810M212 810L162.5 791M162.5 791L163.3 786.7M131.5 803L161.7 792.8L191.7 803.3M97 786.5L102.5 792M102.5 792L108 786.5M102.5 792L102.5 776M67.5 776.5L102.5 776.5M97.5 792.5L160 792.5M97 810.5L102.5 805M102.5 805L108 810.5M102.5 805L102.5 821M67.5 821.5L102.5 821.5M97.5 805.5L126.5 805.5M97 847L102.5 841.5M102.5 841.5L108 847M102.5 841.5L102.5 857.5M67.5 857.5L102.5 857.5M97.5 841.5L126.5 841.5M97 912L102.5 906.5M102.5 906.5L108 912M102.5 906.5L102.5 922.5M67.5 922.5L102.5 922.5M97.5 906.5L126.5 906.5M97 977L102.5 971.5M102.5 971.5L108 977M102.5 971.5L102.5 987.5M67.5 987.5L102.5 987.5M126.5 990.5L195.5 990.5M132.5 971.5L132.5 994M129.5 993.5L135.5 987.5M145.5 971.5L145.5 994M142.5 993.5L148.5 987.5M177.5 971.5L177.5 994M174.5 993.5L180.5 987.5M190.5 971.5L190.5 994M187.5 993.5L193.5 987.5M126.5 971.5L126.5 1023M195.5 971.5L195.5 1023M107 1006.5L123.8 1006.5M123.8 1006.9L137 990.5M197.7 1006.5L214.5 1006.5M197.7 1006.9L185 990.5M121.7 1019.5L201 1019.5M123.5 1022.5L129.5 1016.5M129.5 1022.5L135.5 1016.5M154.5 1022.5L160.5 1016.5M187.5 1022.5L193.5 1016.5M192.5 1022.5L198.5 1016.5M134.4 1036.5L151.2 1036.5M134.4 1036.5L128 1019.5M197.7 1036.5L214.5 1036.5M197.7 1036.5L193 1019.5M132.5 971.5L132.5 1053.7M132.5 1053.7L125.67 1067M157.5 971.5L157.5 1066.5M190.5 971.5L190.5 1053.7M190.5 1053.7L191.8 1067M303.5 897.5L336.5 897.5M336.5 897.5L336.5 971.5M336.5 971.5L303.5 971.5M303.5 971.5L303.5 897.5M303.5 901.5L332.5 901.5M332.5 901.5L332.5 971.5M303.5 906.5L332.5 906.5M303.5 939.5L332.5 939.5M303.5 973L303.5 1024M331.5 973L331.5 1024M336.5 973L336.5 1024M298 1020.5L342 1020.5M300.5 1023.5L306.5 1017.5M328.5 1023.5L334.5 1017.5M333.5 1023.5L339.5 1017.5M339.5 1037.5L356.3 1037.5M339.5 1037L336.5 1020.5M331.5 1024L331.5 1066.5M440.5 898.5L501.5 898.5M501.5 898.5L501.5 978.5M501.5 978.5L440.5 978.5M440.5 978.5L440.5 898.5M472.5 898.5L472.5 978.5M422.5 894.5L422.5 982.5M418 898.5L440 898.5M418 978.5L440 978.5M419.5 901.5L425.5 895.5M419.5 981.5L425.5 975.5M436 992.5L507 992.5M440.5 978.5L440.5 997M501.5 978.5L501.5 997M437.5 995.5L443.5 989.5M498.5 995.5L504.5 989.5M483.7 898L495.8 877.5M495.8 877.5L591 877.5" fill="none" stroke="#000" stroke-width="1" stroke-linecap="square"/>
<path d="M109.8 804.5L159.5 786.5M163.3 786.7L213.3 805" fill="none" stroke="#000" stroke-width="1.6" stroke-linecap="square"/>
<path d="M54 0L54 1096M1587 0L1587 1096M54 1096L1587 1096M0.5 692L54 692M14 692L14 866M14 719L54 719M14 759L54 759M14 813L54 813M0.5 866L54 866M22 866L22 1096M22 935L54 935M22 1029L54 1029M22 1096L54 1096M1089 948L1587 948M1089 948L1089 1096M1116 948L1116 1015.5M1170 948L1170 1015.5M1143 948L1143 1096M1196 948L1196 1096M1237 948L1237 1096M1264 948L1264 1096M1089 1002L1264 1002M1089 1016L1264 1016M1264 975L1587 975M1264 1002L1587 1002M1264 1016L1587 1016M1264 1030L1587 1030M1264 1043L1587 1043M1264 1056L1587 1056M1453 1056L1453 1096M1264 990L1453 990M161 47L161 231.5M305 47L305 231.5M500 47L500 62.5M802 47L802 62.5M1250 37.5L1250 102.5M1250 134.5L1250 231.5M161 470L161 655.5M356 470L356 655.5M728 470L728 655.5M251 470L251 486.5M551 470L551 486.5M1250 461.5L1250 655.5M131 803L131 971.5" fill="none" stroke="#000" stroke-width="2" stroke-linecap="square"/>
<g font-family="Liberation Sans, sans-serif" fill="#000" stroke="#000" stroke-width="0.12">
<text x="-25.8" y="833" font-size="11.94" textLength="66" lengthAdjust="spacingAndGlyphs" transform="rotate(-90 7.2 828.7)">Согласовано</text>
<text x="3.18" y="905.25" font-size="10.42" textLength="51.23" lengthAdjust="spacingAndGlyphs" transform="rotate(-90 28.8 901.5)">Взам. инв. №</text>
<text x="2.47" y="985.75" font-size="10.42" textLength="52.67" lengthAdjust="spacingAndGlyphs" transform="rotate(-90 28.8 982)">Подп. и дата</text>
<text x="7" y="1065.75" font-size="10.42" textLength="43.6" lengthAdjust="spacingAndGlyphs" transform="rotate(-90 28.8 1062)">Инв. № подл.</text>
<text x="1093.36" y="1012.75" font-size="10.42" textLength="18.29" lengthAdjust="spacingAndGlyphs">Изм.</text>
<text x="1118.87" y="1012.75" font-size="10.42" textLength="21.25" lengthAdjust="spacingAndGlyphs">Кол.уч</text>
<text x="1145.9" y="1012.75" font-size="10.42" textLength="21.2" lengthAdjust="spacingAndGlyphs">Лист</text>
<text x="1172.92" y="1012.75" font-size="10.42" textLength="20.16" lengthAdjust="spacingAndGlyphs">№ док.</text>
<text x="1205.38" y="1012.75" font-size="10.42" textLength="22.25" lengthAdjust="spacingAndGlyphs">Подп.</text>
<text x="1236" y="1012.75" font-size="10.42" textLength="14" lengthAdjust="spacingAndGlyphs">Дата</text>
<text x="1091" y="1026.25" font-size="10.42" textLength="30.96" lengthAdjust="spacingAndGlyphs">Разраб.</text>
<text x="1091" y="1039.75" font-size="10.42" textLength="30.96" lengthAdjust="spacingAndGlyphs">Провер.</text>
<text x="1239" y="1026.25" font-size="10.42" textLength="7" lengthAdjust="spacingAndGlyphs">12</text>
<text x="1282.8" y="1081.55" font-size="10.97" textLength="153.6" lengthAdjust="spacingAndGlyphs">Схема раскладки сендвич-панелей</text>
<text x="1484.3" y="1107.75" font-size="10.42" textLength="29.4" lengthAdjust="spacingAndGlyphs">Формат</text>
<text x="1548.1" y="1107.75" font-size="10.42" textLength="9.8" lengthAdjust="spacingAndGlyphs">А2</text>
<text x="105.7" y="76.5" font-size="9.44" textLength="27.79" lengthAdjust="spacingAndGlyphs">+6,270</text>
<text x="105.7" y="102.5" font-size="9.44" textLength="27.79" lengthAdjust="spacingAndGlyphs">+5,300</text>
<text x="105.7" y="140.5" font-size="9.44" textLength="27.79" lengthAdjust="spacingAndGlyphs">+3,900</text>
<text x="105.7" y="183.5" font-size="9.44" textLength="27.79" lengthAdjust="spacingAndGlyphs">+2,300</text>
<text x="105.7" y="221.5" font-size="9.44" textLength="27.79" lengthAdjust="spacingAndGlyphs">+0,900</text>
<text x="110.81" y="245.5" font-size="9.44" textLength="22.7" lengthAdjust="spacingAndGlyphs">0,000</text>
<text x="918" y="70.5" font-size="9.44" textLength="27.79" lengthAdjust="spacingAndGlyphs">+5,300</text>
<text x="918" y="96.5" font-size="9.44" textLength="27.79" lengthAdjust="spacingAndGlyphs">+4,350</text>
<text x="918" y="136.5" font-size="9.44" textLength="27.79" lengthAdjust="spacingAndGlyphs">+4,050</text>
<text x="918" y="192.5" font-size="9.44" textLength="27.79" lengthAdjust="spacingAndGlyphs">+1,950</text>
<text x="517.75" y="11.3" font-size="9.17" textLength="24.5" lengthAdjust="spacingAndGlyphs">27700</text>
<text x="223.7" y="48.3" font-size="9.17" textLength="19.6" lengthAdjust="spacingAndGlyphs">5330</text>
<text x="325.5" y="48.3" font-size="9.17" textLength="19.6" lengthAdjust="spacingAndGlyphs">2260</text>
<text x="426.5" y="48.3" font-size="9.17" textLength="19.6" lengthAdjust="spacingAndGlyphs">4830</text>
<text x="596.2" y="48.3" font-size="9.17" textLength="19.6" lengthAdjust="spacingAndGlyphs">7220</text>
<text x="742.5" y="48.3" font-size="9.17" textLength="19.6" lengthAdjust="spacingAndGlyphs">3620</text>
<text x="844.2" y="48.3" font-size="9.17" textLength="19.6" lengthAdjust="spacingAndGlyphs">3310</text>
<text x="142.8" y="38.9" font-size="9.17" textLength="13.8" lengthAdjust="spacingAndGlyphs">150</text>
<text x="164.8" y="38.9" font-size="9.17" textLength="9.2" lengthAdjust="spacingAndGlyphs">20</text>
<text x="309.2" y="38.9" font-size="9.17" textLength="9.2" lengthAdjust="spacingAndGlyphs">20</text>
<text x="352.4" y="38.9" font-size="9.17" textLength="13.8" lengthAdjust="spacingAndGlyphs">150</text>
<text x="374.8" y="38.9" font-size="9.17" textLength="9.2" lengthAdjust="spacingAndGlyphs">20</text>
<text x="487.9" y="38.9" font-size="9.17" textLength="9.2" lengthAdjust="spacingAndGlyphs">20</text>
<text x="509.1" y="38.9" font-size="9.17" textLength="13.8" lengthAdjust="spacingAndGlyphs">250</text>
<text x="532" y="38.9" font-size="9.17" textLength="9.2" lengthAdjust="spacingAndGlyphs">20</text>
<text x="707.9" y="38.9" font-size="9.17" textLength="9.2" lengthAdjust="spacingAndGlyphs">20</text>
<text x="782.9" y="38.9" font-size="9.17" textLength="9.2" lengthAdjust="spacingAndGlyphs">20</text>
<text x="808.7" y="38.9" font-size="9.17" textLength="13.8" lengthAdjust="spacingAndGlyphs">250</text>
<text x="829.8" y="38.9" font-size="9.17" textLength="9.2" lengthAdjust="spacingAndGlyphs">20</text>
<text x="884.4" y="38.9" font-size="9.17" textLength="9.2" lengthAdjust="spacingAndGlyphs">20</text>
<text x="904.4" y="38.9" font-size="9.17" textLength="13.8" lengthAdjust="spacingAndGlyphs">150</text>
<text x="167.7" y="247.7" font-size="8.89" textLength="18.4" lengthAdjust="spacingAndGlyphs">1100</text>
<text x="198.6" y="247.7" font-size="8.89" textLength="18.4" lengthAdjust="spacingAndGlyphs">1200</text>
<text x="226.2" y="247.7" font-size="8.89" textLength="13.8" lengthAdjust="spacingAndGlyphs">700</text>
<text x="263.3" y="247.7" font-size="8.89" textLength="18.4" lengthAdjust="spacingAndGlyphs">1200</text>
<text x="290" y="247.7" font-size="8.89" textLength="13.8" lengthAdjust="spacingAndGlyphs">700</text>
<text x="329.8" y="247.7" font-size="8.89" textLength="18.4" lengthAdjust="spacingAndGlyphs">2330</text>
<text x="388.1" y="247.7" font-size="8.89" textLength="18.4" lengthAdjust="spacingAndGlyphs">1970</text>
<text x="430.3" y="247.7" font-size="8.89" textLength="13.8" lengthAdjust="spacingAndGlyphs">700</text>
<text x="454.8" y="247.7" font-size="8.89" textLength="18.4" lengthAdjust="spacingAndGlyphs">1200</text>
<text x="485.6" y="247.7" font-size="8.89" textLength="18.4" lengthAdjust="spacingAndGlyphs">1100</text>
<text x="548.8" y="247.7" font-size="8.89" textLength="18.4" lengthAdjust="spacingAndGlyphs">3000</text>
<text x="645.5" y="247.7" font-size="8.89" textLength="18.4" lengthAdjust="spacingAndGlyphs">3000</text>
<text x="742.7" y="247.7" font-size="8.89" textLength="18.4" lengthAdjust="spacingAndGlyphs">3000</text>
<text x="806.4" y="247.7" font-size="8.89" textLength="18.4" lengthAdjust="spacingAndGlyphs">1100</text>
<text x="834.1" y="247.7" font-size="8.89" textLength="13.8" lengthAdjust="spacingAndGlyphs">900</text>
<text x="866.4" y="247.7" font-size="8.89" textLength="18.4" lengthAdjust="spacingAndGlyphs">1600</text>
<text x="165.3" y="264.7" font-size="8.89" textLength="13.8" lengthAdjust="spacingAndGlyphs">200</text>
<text x="255.3" y="264.7" font-size="8.89" textLength="13.8" lengthAdjust="spacingAndGlyphs">500</text>
<text x="432.1" y="264.7" font-size="8.89" textLength="13.8" lengthAdjust="spacingAndGlyphs">200</text>
<text x="520.3" y="264.7" font-size="8.89" textLength="13.8" lengthAdjust="spacingAndGlyphs">300</text>
<text x="613.1" y="264.7" font-size="8.89" textLength="13.8" lengthAdjust="spacingAndGlyphs">600</text>
<text x="709.4" y="264.7" font-size="8.89" textLength="13.8" lengthAdjust="spacingAndGlyphs">600</text>
<text x="803.1" y="264.7" font-size="8.89" textLength="13.8" lengthAdjust="spacingAndGlyphs">300</text>
<text x="906.1" y="264.7" font-size="8.89" textLength="13.8" lengthAdjust="spacingAndGlyphs">200</text>
<text x="192.6" y="277.8" font-size="9.17" textLength="19.2" lengthAdjust="spacingAndGlyphs">3000</text>
<text x="265.7" y="277.8" font-size="9.17" textLength="19.2" lengthAdjust="spacingAndGlyphs">2400</text>
<text x="312.2" y="277.8" font-size="9.17" textLength="14.4" lengthAdjust="spacingAndGlyphs">900</text>
<text x="337.9" y="277.8" font-size="9.17" textLength="19.2" lengthAdjust="spacingAndGlyphs">1200</text>
<text x="386.4" y="277.8" font-size="9.17" textLength="19.2" lengthAdjust="spacingAndGlyphs">2400</text>
<text x="459.4" y="277.8" font-size="9.17" textLength="19.2" lengthAdjust="spacingAndGlyphs">3000</text>
<text x="548.4" y="277.8" font-size="9.17" textLength="19.2" lengthAdjust="spacingAndGlyphs">3600</text>
<text x="645.1" y="277.8" font-size="9.17" textLength="19.2" lengthAdjust="spacingAndGlyphs">3600</text>
<text x="742.3" y="277.8" font-size="9.17" textLength="19.2" lengthAdjust="spacingAndGlyphs">3600</text>
<text x="838.8" y="277.8" font-size="9.17" textLength="19.2" lengthAdjust="spacingAndGlyphs">3600</text>
<text x="517.75" y="296.3" font-size="9.17" textLength="24.5" lengthAdjust="spacingAndGlyphs">27300</text>
<text x="159.5" y="344.5" font-size="13.89" textLength="6" lengthAdjust="spacingAndGlyphs">1</text>
<text x="239.5" y="344.5" font-size="13.89" textLength="6" lengthAdjust="spacingAndGlyphs">2</text>
<text x="293.5" y="344.5" font-size="13.89" textLength="6" lengthAdjust="spacingAndGlyphs">3</text>
<text x="328.5" y="344.5" font-size="13.89" textLength="6" lengthAdjust="spacingAndGlyphs">4</text>
<text x="363.5" y="344.5" font-size="13.89" textLength="6" lengthAdjust="spacingAndGlyphs">5</text>
<text x="425.5" y="344.5" font-size="13.89" textLength="6" lengthAdjust="spacingAndGlyphs">6</text>
<text x="506.5" y="344.5" font-size="13.89" textLength="6" lengthAdjust="spacingAndGlyphs">7</text>
<text x="603.5" y="344.5" font-size="13.89" textLength="6" lengthAdjust="spacingAndGlyphs">8</text>
<text x="700.5" y="344.5" font-size="13.89" textLength="6" lengthAdjust="spacingAndGlyphs">9</text>
<text x="794.5" y="344.5" font-size="13.89" textLength="12" lengthAdjust="spacingAndGlyphs">10</text>
<text x="891.5" y="344.5" font-size="13.89" textLength="12" lengthAdjust="spacingAndGlyphs">11</text>
<text x="229.6" y="67.7" font-size="11.11" textLength="18.4" lengthAdjust="spacingAndGlyphs">ПС16</text>
<text x="229.6" y="91.2" font-size="11.11" textLength="18.4" lengthAdjust="spacingAndGlyphs">ПС16</text>
<text x="229.6" y="121.2" font-size="11.11" textLength="18.4" lengthAdjust="spacingAndGlyphs">ПС16</text>
<text x="229.6" y="153" font-size="11.11" textLength="18.4" lengthAdjust="spacingAndGlyphs">ПС16</text>
<text x="229.6" y="186.8" font-size="11.11" textLength="18.4" lengthAdjust="spacingAndGlyphs">ПС16</text>
<text x="229.6" y="218.7" font-size="11.11" textLength="18.4" lengthAdjust="spacingAndGlyphs">ПС16</text>
<text x="424.2" y="67.7" font-size="11.11" textLength="18.4" lengthAdjust="spacingAndGlyphs">ПС14</text>
<text x="424.2" y="91.2" font-size="11.11" textLength="18.4" lengthAdjust="spacingAndGlyphs">ПС14</text>
<text x="424.2" y="121.2" font-size="11.11" textLength="18.4" lengthAdjust="spacingAndGlyphs">ПС14</text>
<text x="424.2" y="152.4" font-size="11.11" textLength="18.4" lengthAdjust="spacingAndGlyphs">ПС14</text>
<text x="425.6" y="187.3" font-size="11.11" textLength="18.4" lengthAdjust="spacingAndGlyphs">ПС15</text>
<text x="425.6" y="218" font-size="11.11" textLength="18.4" lengthAdjust="spacingAndGlyphs">ПС15</text>
<text x="598.6" y="67.7" font-size="11.11" textLength="18.4" lengthAdjust="spacingAndGlyphs">ПС10</text>
<text x="598.6" y="83.7" font-size="11.11" textLength="18.4" lengthAdjust="spacingAndGlyphs">ПС10</text>
<text x="598.6" y="121.6" font-size="11.11" textLength="18.4" lengthAdjust="spacingAndGlyphs">ПС10</text>
<text x="513.1" y="154" font-size="11.11" textLength="21.8" lengthAdjust="spacingAndGlyphs">ПС11.2</text>
<text x="513.1" y="186.6" font-size="11.11" textLength="21.8" lengthAdjust="spacingAndGlyphs">ПС11.2</text>
<text x="513.1" y="217.9" font-size="11.11" textLength="21.8" lengthAdjust="spacingAndGlyphs">ПС11.2</text>
<text x="606.3" y="154" font-size="11.11" textLength="21.8" lengthAdjust="spacingAndGlyphs">ПС11.1</text>
<text x="606.3" y="186.6" font-size="11.11" textLength="21.8" lengthAdjust="spacingAndGlyphs">ПС11.1</text>
<text x="606.3" y="217.9" font-size="11.11" textLength="21.8" lengthAdjust="spacingAndGlyphs">ПС11.1</text>
<text x="702.5" y="154" font-size="11.11" textLength="21.8" lengthAdjust="spacingAndGlyphs">ПС11.1</text>
<text x="702.5" y="186.6" font-size="11.11" textLength="21.8" lengthAdjust="spacingAndGlyphs">ПС11.1</text>
<text x="702.5" y="217.9" font-size="11.11" textLength="21.8" lengthAdjust="spacingAndGlyphs">ПС11.1</text>
<text x="776.2" y="154" font-size="11.11" textLength="21.8" lengthAdjust="spacingAndGlyphs">ПС11.2</text>
<text x="776.2" y="186.6" font-size="11.11" textLength="21.8" lengthAdjust="spacingAndGlyphs">ПС11.2</text>
<text x="776.2" y="217.9" font-size="11.11" textLength="21.8" lengthAdjust="spacingAndGlyphs">ПС11.2</text>
<text x="742.1" y="67.7" font-size="11.11" textLength="15" lengthAdjust="spacingAndGlyphs">ПС8</text>
<text x="742.1" y="83.7" font-size="11.11" textLength="15" lengthAdjust="spacingAndGlyphs">ПС8</text>
<text x="742.1" y="121.6" font-size="11.11" textLength="15" lengthAdjust="spacingAndGlyphs">ПС8</text>
<text x="840" y="67.7" font-size="11.11" textLength="15" lengthAdjust="spacingAndGlyphs">ПС5</text>
<text x="840" y="90.9" font-size="11.11" textLength="15" lengthAdjust="spacingAndGlyphs">ПС5</text>
<text x="840" y="122.2" font-size="11.11" textLength="15" lengthAdjust="spacingAndGlyphs">ПС5</text>
<text x="840" y="154.5" font-size="11.11" textLength="15" lengthAdjust="spacingAndGlyphs">ПС5</text>
<text x="840" y="177.5" font-size="11.11" textLength="15" lengthAdjust="spacingAndGlyphs">ПС5</text>
<text x="812.1" y="219" font-size="11.11" textLength="17.8" lengthAdjust="spacingAndGlyphs">ПС6.3</text>
<text x="864" y="219" font-size="11.11" textLength="15" lengthAdjust="spacingAndGlyphs">ПС7</text>
<text x="389.5" y="175.5" font-size="9.44" textLength="27.79" lengthAdjust="spacingAndGlyphs">+2,590</text>
<text x="1143.5" y="26" font-size="9.17" textLength="19.6" lengthAdjust="spacingAndGlyphs" transform="rotate(-10.8 1153.3 22.7)">6930</text>
<text x="1337.2" y="27.3" font-size="9.17" textLength="19.6" lengthAdjust="spacingAndGlyphs" transform="rotate(10.8 1347 24)">6930</text>
<text x="1242.6" y="40.35" font-size="10.42" textLength="13.8" lengthAdjust="spacingAndGlyphs">ПС2</text>
<text x="1008.21" y="44.5" font-size="9.44" textLength="27.79" lengthAdjust="spacingAndGlyphs">+7,455</text>
<text x="1008.21" y="76.5" font-size="9.44" textLength="27.79" lengthAdjust="spacingAndGlyphs">+6,270</text>
<text x="1008.21" y="102.5" font-size="9.44" textLength="27.79" lengthAdjust="spacingAndGlyphs">+5,300</text>
<text x="1008.21" y="140.5" font-size="9.44" textLength="27.79" lengthAdjust="spacingAndGlyphs">+3,900</text>
<text x="1008.21" y="183.5" font-size="9.44" textLength="27.79" lengthAdjust="spacingAndGlyphs">+2,300</text>
<text x="1008.21" y="221.5" font-size="9.44" textLength="27.79" lengthAdjust="spacingAndGlyphs">+0,900</text>
<text x="1013.3" y="245.5" font-size="9.44" textLength="22.7" lengthAdjust="spacingAndGlyphs">0,000</text>
<text x="1444" y="102.5" font-size="9.44" textLength="27.79" lengthAdjust="spacingAndGlyphs">+5,300</text>
<text x="1444" y="127.5" font-size="9.44" textLength="27.79" lengthAdjust="spacingAndGlyphs">+3,200</text>
<text x="1346.6" y="145.8" font-size="9.17" textLength="19.6" lengthAdjust="spacingAndGlyphs">4475</text>
<text x="1163.2" y="63.8" font-size="11.11" textLength="15" lengthAdjust="spacingAndGlyphs">ПС1</text>
<text x="1163.2" y="96.3" font-size="11.11" textLength="15" lengthAdjust="spacingAndGlyphs">ПС1</text>
<text x="1163.2" y="160" font-size="11.11" textLength="15" lengthAdjust="spacingAndGlyphs">ПС1</text>
<text x="1163.2" y="190.9" font-size="11.11" textLength="15" lengthAdjust="spacingAndGlyphs">ПС1</text>
<text x="1163.2" y="224.5" font-size="11.11" textLength="15" lengthAdjust="spacingAndGlyphs">ПС1</text>
<text x="1134.9" y="122.6" font-size="11.11" textLength="15" lengthAdjust="spacingAndGlyphs">ПС3</text>
<text x="1332.7" y="62.5" font-size="11.11" textLength="15" lengthAdjust="spacingAndGlyphs">ПС1</text>
<text x="1332.7" y="94.5" font-size="11.11" textLength="15" lengthAdjust="spacingAndGlyphs">ПС1</text>
<text x="1332.7" y="159" font-size="11.11" textLength="15" lengthAdjust="spacingAndGlyphs">ПС1</text>
<text x="1332.7" y="191" font-size="11.11" textLength="15" lengthAdjust="spacingAndGlyphs">ПС1</text>
<text x="1332.7" y="223.5" font-size="11.11" textLength="15" lengthAdjust="spacingAndGlyphs">ПС1</text>
<text x="1360.3" y="122.8" font-size="11.11" textLength="15" lengthAdjust="spacingAndGlyphs">ПС4</text>
<text x="1134.5" y="247.7" font-size="8.89" textLength="18.4" lengthAdjust="spacingAndGlyphs">4125</text>
<text x="1206.3" y="247.7" font-size="8.89" textLength="18.4" lengthAdjust="spacingAndGlyphs">1200</text>
<text x="1233.9" y="247.7" font-size="8.89" textLength="13.8" lengthAdjust="spacingAndGlyphs">675</text>
<text x="1251.8" y="247.7" font-size="8.89" textLength="13.8" lengthAdjust="spacingAndGlyphs">675</text>
<text x="1275.2" y="247.7" font-size="8.89" textLength="18.4" lengthAdjust="spacingAndGlyphs">1200</text>
<text x="1346.6" y="247.7" font-size="8.89" textLength="18.4" lengthAdjust="spacingAndGlyphs">4125</text>
<text x="1091.1" y="264.7" font-size="8.89" textLength="13.8" lengthAdjust="spacingAndGlyphs">200</text>
<text x="1420.7" y="264.7" font-size="8.89" textLength="13.8" lengthAdjust="spacingAndGlyphs">200</text>
<text x="1118.9" y="277.8" font-size="9.17" textLength="19.2" lengthAdjust="spacingAndGlyphs">3000</text>
<text x="1175.4" y="277.8" font-size="9.17" textLength="19.2" lengthAdjust="spacingAndGlyphs">1200</text>
<text x="1216.9" y="277.8" font-size="9.17" textLength="19.2" lengthAdjust="spacingAndGlyphs">1800</text>
<text x="1280.9" y="277.8" font-size="9.17" textLength="19.2" lengthAdjust="spacingAndGlyphs">3000</text>
<text x="1361.9" y="277.8" font-size="9.17" textLength="19.2" lengthAdjust="spacingAndGlyphs">3000</text>
<text x="1237.75" y="296.8" font-size="9.17" textLength="24.5" lengthAdjust="spacingAndGlyphs">12000</text>
<text x="1085" y="344.25" font-size="13.19" textLength="7" lengthAdjust="spacingAndGlyphs">А</text>
<text x="1164" y="344.25" font-size="13.19" textLength="7" lengthAdjust="spacingAndGlyphs">Б</text>
<text x="1199" y="344.25" font-size="13.19" textLength="7" lengthAdjust="spacingAndGlyphs">В</text>
<text x="1246.5" y="344.25" font-size="13.19" textLength="7" lengthAdjust="spacingAndGlyphs">Г</text>
<text x="1327" y="344.25" font-size="13.19" textLength="7" lengthAdjust="spacingAndGlyphs">Д</text>
<text x="1408" y="344.25" font-size="13.19" textLength="7" lengthAdjust="spacingAndGlyphs">Е</text>
<text x="87.7" y="500.5" font-size="9.44" textLength="27.79" lengthAdjust="spacingAndGlyphs">+6,270</text>
<text x="87.7" y="526.5" font-size="9.44" textLength="27.79" lengthAdjust="spacingAndGlyphs">+5,300</text>
<text x="90.7" y="564.5" font-size="9.44" textLength="27.79" lengthAdjust="spacingAndGlyphs">+3,900</text>
<text x="90.7" y="575.5" font-size="9.44" textLength="27.79" lengthAdjust="spacingAndGlyphs">+2,300</text>
<text x="91.2" y="622.5" font-size="9.44" textLength="27.79" lengthAdjust="spacingAndGlyphs">+1,750</text>
<text x="90.7" y="645.5" font-size="9.44" textLength="27.79" lengthAdjust="spacingAndGlyphs">+0,900</text>
<text x="94.81" y="669.5" font-size="9.44" textLength="22.7" lengthAdjust="spacingAndGlyphs">0,000</text>
<text x="291.5" y="584.5" font-size="9.44" textLength="27.79" lengthAdjust="spacingAndGlyphs">+1,950</text>
<text x="196.1" y="470.3" font-size="9.17" textLength="19.6" lengthAdjust="spacingAndGlyphs">3310</text>
<text x="297.1" y="470.3" font-size="9.17" textLength="19.6" lengthAdjust="spacingAndGlyphs">3620</text>
<text x="443.5" y="470.3" font-size="9.17" textLength="19.6" lengthAdjust="spacingAndGlyphs">7220</text>
<text x="633.5" y="470.3" font-size="9.17" textLength="19.6" lengthAdjust="spacingAndGlyphs">6270</text>
<text x="803.7" y="470.3" font-size="9.17" textLength="19.6" lengthAdjust="spacingAndGlyphs">6320</text>
<text x="139.7" y="461.3" font-size="9.17" textLength="13.8" lengthAdjust="spacingAndGlyphs">150</text>
<text x="165.2" y="461.3" font-size="9.17" textLength="9.2" lengthAdjust="spacingAndGlyphs">20</text>
<text x="237.6" y="461.3" font-size="9.17" textLength="9.2" lengthAdjust="spacingAndGlyphs">20</text>
<text x="258.6" y="461.3" font-size="9.17" textLength="13.8" lengthAdjust="spacingAndGlyphs">250</text>
<text x="275.5" y="461.3" font-size="9.17" textLength="9.2" lengthAdjust="spacingAndGlyphs">20</text>
<text x="360" y="461.3" font-size="9.17" textLength="9.2" lengthAdjust="spacingAndGlyphs">20</text>
<text x="537.6" y="461.3" font-size="9.17" textLength="9.2" lengthAdjust="spacingAndGlyphs">20</text>
<text x="559.1" y="461.3" font-size="9.17" textLength="13.8" lengthAdjust="spacingAndGlyphs">250</text>
<text x="576.9" y="461.3" font-size="9.17" textLength="9.2" lengthAdjust="spacingAndGlyphs">20</text>
<text x="732" y="461.3" font-size="9.17" textLength="9.2" lengthAdjust="spacingAndGlyphs">20</text>
<text x="885.1" y="461.3" font-size="9.17" textLength="9.2" lengthAdjust="spacingAndGlyphs">20</text>
<text x="904.7" y="461.3" font-size="9.17" textLength="13.8" lengthAdjust="spacingAndGlyphs">150</text>
<text x="197.8" y="669.7" font-size="8.89" textLength="13.8" lengthAdjust="spacingAndGlyphs">700</text>
<text x="240" y="669.7" font-size="8.89" textLength="13.8" lengthAdjust="spacingAndGlyphs">840</text>
<text x="261.5" y="669.7" font-size="8.89" textLength="13.8" lengthAdjust="spacingAndGlyphs">750</text>
<text x="284.1" y="669.7" font-size="8.89" textLength="13.8" lengthAdjust="spacingAndGlyphs">900</text>
<text x="335.2" y="669.7" font-size="8.89" textLength="18.4" lengthAdjust="spacingAndGlyphs">3100</text>
<text x="393.5" y="669.7" font-size="8.89" textLength="18.4" lengthAdjust="spacingAndGlyphs">1200</text>
<text x="449.8" y="669.7" font-size="8.89" textLength="18.4" lengthAdjust="spacingAndGlyphs">2950</text>
<text x="505.8" y="669.7" font-size="8.89" textLength="18.4" lengthAdjust="spacingAndGlyphs">1200</text>
<text x="532.8" y="669.7" font-size="8.89" textLength="13.8" lengthAdjust="spacingAndGlyphs">700</text>
<text x="583.9" y="669.7" font-size="8.89" textLength="18.4" lengthAdjust="spacingAndGlyphs">3300</text>
<text x="646.3" y="669.7" font-size="8.89" textLength="18.4" lengthAdjust="spacingAndGlyphs">1200</text>
<text x="694.9" y="669.7" font-size="8.89" textLength="18.4" lengthAdjust="spacingAndGlyphs">2500</text>
<text x="745.4" y="669.7" font-size="8.89" textLength="18.4" lengthAdjust="spacingAndGlyphs">1800</text>
<text x="795.9" y="669.7" font-size="8.89" textLength="18.4" lengthAdjust="spacingAndGlyphs">2500</text>
<text x="844.5" y="669.7" font-size="8.89" textLength="18.4" lengthAdjust="spacingAndGlyphs">1200</text>
<text x="874.6" y="669.7" font-size="8.89" textLength="18.4" lengthAdjust="spacingAndGlyphs">1000</text>
<text x="136.9" y="679.8" font-size="8.89" textLength="13.8" lengthAdjust="spacingAndGlyphs">200</text>
<text x="137.4" y="691" font-size="8.89" textLength="13.8" lengthAdjust="spacingAndGlyphs">440</text>
<text x="165" y="691" font-size="8.89" textLength="13.8" lengthAdjust="spacingAndGlyphs">560</text>
<text x="199.7" y="686.2" font-size="8.89" textLength="13.8" lengthAdjust="spacingAndGlyphs">250</text>
<text x="224.1" y="689.7" font-size="8.89" textLength="13.8" lengthAdjust="spacingAndGlyphs">250</text>
<text x="240" y="680.7" font-size="8.89" textLength="13.8" lengthAdjust="spacingAndGlyphs">560</text>
<text x="906.9" y="685.7" font-size="8.89" textLength="13.8" lengthAdjust="spacingAndGlyphs">200</text>
<text x="200.7" y="701.8" font-size="9.17" textLength="19.2" lengthAdjust="spacingAndGlyphs">3600</text>
<text x="297.3" y="701.8" font-size="9.17" textLength="19.2" lengthAdjust="spacingAndGlyphs">3600</text>
<text x="394.4" y="701.8" font-size="9.17" textLength="19.2" lengthAdjust="spacingAndGlyphs">3600</text>
<text x="491.4" y="701.8" font-size="9.17" textLength="19.2" lengthAdjust="spacingAndGlyphs">3600</text>
<text x="580.7" y="701.8" font-size="9.17" textLength="19.2" lengthAdjust="spacingAndGlyphs">3000</text>
<text x="653.8" y="701.8" font-size="9.17" textLength="19.2" lengthAdjust="spacingAndGlyphs">2400</text>
<text x="701.65" y="701.8" font-size="9.17" textLength="19.2" lengthAdjust="spacingAndGlyphs">1200</text>
<text x="732.55" y="701.8" font-size="9.17" textLength="14.4" lengthAdjust="spacingAndGlyphs">900</text>
<text x="774.8" y="701.8" font-size="9.17" textLength="19.2" lengthAdjust="spacingAndGlyphs">2400</text>
<text x="847.4" y="701.8" font-size="9.17" textLength="19.2" lengthAdjust="spacingAndGlyphs">3000</text>
<text x="517.45" y="720.5" font-size="9.17" textLength="24.5" lengthAdjust="spacingAndGlyphs">27300</text>
<text x="156" y="768.5" font-size="13.89" textLength="12" lengthAdjust="spacingAndGlyphs">11</text>
<text x="253.5" y="768.5" font-size="13.89" textLength="12" lengthAdjust="spacingAndGlyphs">10</text>
<text x="353.5" y="768.5" font-size="13.89" textLength="6" lengthAdjust="spacingAndGlyphs">9</text>
<text x="450.5" y="768.5" font-size="13.89" textLength="6" lengthAdjust="spacingAndGlyphs">8</text>
<text x="547.5" y="768.5" font-size="13.89" textLength="6" lengthAdjust="spacingAndGlyphs">7</text>
<text x="627.5" y="768.5" font-size="13.89" textLength="6" lengthAdjust="spacingAndGlyphs">6</text>
<text x="689.5" y="768.5" font-size="13.89" textLength="6" lengthAdjust="spacingAndGlyphs">5</text>
<text x="724.5" y="768.5" font-size="13.89" textLength="6" lengthAdjust="spacingAndGlyphs">4</text>
<text x="759.5" y="768.5" font-size="13.89" textLength="6" lengthAdjust="spacingAndGlyphs">3</text>
<text x="813.5" y="768.5" font-size="13.89" textLength="6" lengthAdjust="spacingAndGlyphs">2</text>
<text x="894.5" y="768.5" font-size="13.89" textLength="6" lengthAdjust="spacingAndGlyphs">1</text>
<text x="167.1" y="491.6" font-size="11.11" textLength="15" lengthAdjust="spacingAndGlyphs">ПС5</text>
<text x="167.1" y="514" font-size="11.11" textLength="15" lengthAdjust="spacingAndGlyphs">ПС5</text>
<text x="167.1" y="546" font-size="11.11" textLength="15" lengthAdjust="spacingAndGlyphs">ПС5</text>
<text x="167.1" y="578" font-size="11.11" textLength="15" lengthAdjust="spacingAndGlyphs">ПС5</text>
<text x="196.8" y="604.3" font-size="11.11" textLength="15" lengthAdjust="spacingAndGlyphs">ПС5</text>
<text x="170.6" y="643.5" font-size="11.11" textLength="17.8" lengthAdjust="spacingAndGlyphs">ПС6.1</text>
<text x="222.1" y="643.5" font-size="11.11" textLength="17.8" lengthAdjust="spacingAndGlyphs">ПС6.2</text>
<text x="262.9" y="643.5" font-size="11.11" textLength="17.8" lengthAdjust="spacingAndGlyphs">ПС6.3</text>
<text x="322.7" y="491.6" font-size="11.11" textLength="15" lengthAdjust="spacingAndGlyphs">ПС8</text>
<text x="322.7" y="514" font-size="11.11" textLength="15" lengthAdjust="spacingAndGlyphs">ПС8</text>
<text x="322.7" y="544.7" font-size="11.11" textLength="15" lengthAdjust="spacingAndGlyphs">ПС8</text>
<text x="322.7" y="577.7" font-size="11.11" textLength="15" lengthAdjust="spacingAndGlyphs">ПС8</text>
<text x="322.7" y="610" font-size="11.11" textLength="15" lengthAdjust="spacingAndGlyphs">ПС8</text>
<text x="322.7" y="643" font-size="11.11" textLength="15" lengthAdjust="spacingAndGlyphs">ПС9</text>
<text x="448.9" y="491.6" font-size="11.11" textLength="18.4" lengthAdjust="spacingAndGlyphs">ПС10</text>
<text x="448.9" y="512.3" font-size="11.11" textLength="18.4" lengthAdjust="spacingAndGlyphs">ПС10</text>
<text x="448.9" y="545.7" font-size="11.11" textLength="18.4" lengthAdjust="spacingAndGlyphs">ПС10</text>
<text x="448.9" y="579.7" font-size="11.11" textLength="18.4" lengthAdjust="spacingAndGlyphs">ПС10</text>
<text x="448.9" y="612.6" font-size="11.11" textLength="18.4" lengthAdjust="spacingAndGlyphs">ПС10</text>
<text x="448.9" y="644" font-size="11.11" textLength="18.4" lengthAdjust="spacingAndGlyphs">ПС10</text>
<text x="577.7" y="491.6" font-size="11.11" textLength="18.4" lengthAdjust="spacingAndGlyphs">ПС12</text>
<text x="577.7" y="512.3" font-size="11.11" textLength="18.4" lengthAdjust="spacingAndGlyphs">ПС12</text>
<text x="577.7" y="545.7" font-size="11.11" textLength="18.4" lengthAdjust="spacingAndGlyphs">ПС12</text>
<text x="577.7" y="579.7" font-size="11.11" textLength="18.4" lengthAdjust="spacingAndGlyphs">ПС12</text>
<text x="577.7" y="612.6" font-size="11.11" textLength="18.4" lengthAdjust="spacingAndGlyphs">ПС12</text>
<text x="577.7" y="644" font-size="11.11" textLength="18.4" lengthAdjust="spacingAndGlyphs">ПС12</text>
<text x="795.9" y="491.6" font-size="11.11" textLength="18.4" lengthAdjust="spacingAndGlyphs">ПС13</text>
<text x="795.9" y="516.3" font-size="11.11" textLength="18.4" lengthAdjust="spacingAndGlyphs">ПС13</text>
<text x="795.9" y="546" font-size="11.11" textLength="18.4" lengthAdjust="spacingAndGlyphs">ПС13</text>
<text x="795.9" y="578.3" font-size="11.11" textLength="18.4" lengthAdjust="spacingAndGlyphs">ПС13</text>
<text x="795.9" y="609.3" font-size="11.11" textLength="18.4" lengthAdjust="spacingAndGlyphs">ПС13</text>
<text x="795.9" y="642" font-size="11.11" textLength="18.4" lengthAdjust="spacingAndGlyphs">ПС13</text>
<text x="1143.5" y="450" font-size="9.17" textLength="19.6" lengthAdjust="spacingAndGlyphs" transform="rotate(-10.8 1153.3 446.7)">6930</text>
<text x="1337.2" y="451.3" font-size="9.17" textLength="19.6" lengthAdjust="spacingAndGlyphs" transform="rotate(10.8 1347 448)">6930</text>
<text x="1242.6" y="464.35" font-size="10.42" textLength="13.8" lengthAdjust="spacingAndGlyphs">ПС2</text>
<text x="1019.21" y="468.5" font-size="9.44" textLength="27.79" lengthAdjust="spacingAndGlyphs">+7,455</text>
<text x="1019.21" y="500.5" font-size="9.44" textLength="27.79" lengthAdjust="spacingAndGlyphs">+6,270</text>
<text x="1019.21" y="526.5" font-size="9.44" textLength="27.79" lengthAdjust="spacingAndGlyphs">+5,300</text>
<text x="1019.21" y="564.5" font-size="9.44" textLength="27.79" lengthAdjust="spacingAndGlyphs">+3,900</text>
<text x="1019.21" y="607.5" font-size="9.44" textLength="27.79" lengthAdjust="spacingAndGlyphs">+2,300</text>
<text x="1019.21" y="645.5" font-size="9.44" textLength="27.79" lengthAdjust="spacingAndGlyphs">+0,900</text>
<text x="1024.31" y="669.5" font-size="9.44" textLength="22.7" lengthAdjust="spacingAndGlyphs">0,000</text>
<text x="1163.1" y="487.4" font-size="11.11" textLength="15" lengthAdjust="spacingAndGlyphs">ПС1</text>
<text x="1163.1" y="513.1" font-size="11.11" textLength="15" lengthAdjust="spacingAndGlyphs">ПС1</text>
<text x="1163.1" y="546" font-size="11.11" textLength="15" lengthAdjust="spacingAndGlyphs">ПС1</text>
<text x="1163.1" y="577.1" font-size="11.11" textLength="15" lengthAdjust="spacingAndGlyphs">ПС1</text>
<text x="1163.1" y="611.5" font-size="11.11" textLength="15" lengthAdjust="spacingAndGlyphs">ПС1</text>
<text x="1163.1" y="644.3" font-size="11.11" textLength="15" lengthAdjust="spacingAndGlyphs">ПС1</text>
<text x="1332.6" y="485.9" font-size="11.11" textLength="15" lengthAdjust="spacingAndGlyphs">ПС1</text>
<text x="1332.6" y="515.1" font-size="11.11" textLength="15" lengthAdjust="spacingAndGlyphs">ПС1</text>
<text x="1332.6" y="546.2" font-size="11.11" textLength="15" lengthAdjust="spacingAndGlyphs">ПС1</text>
<text x="1332.6" y="577" font-size="11.11" textLength="15" lengthAdjust="spacingAndGlyphs">ПС1</text>
<text x="1332.6" y="613.7" font-size="11.11" textLength="15" lengthAdjust="spacingAndGlyphs">ПС1</text>
<text x="1332.6" y="643.4" font-size="11.11" textLength="15" lengthAdjust="spacingAndGlyphs">ПС1</text>
<text x="1422.1" y="491" font-size="11.11" textLength="21.8" lengthAdjust="spacingAndGlyphs">ПС21.1</text>
<text x="1422.1" y="514.8" font-size="11.11" textLength="21.8" lengthAdjust="spacingAndGlyphs">ПС21.1</text>
<text x="1422.1" y="547.1" font-size="11.11" textLength="21.8" lengthAdjust="spacingAndGlyphs">ПС21.1</text>
<text x="1422.1" y="578.2" font-size="11.11" textLength="21.8" lengthAdjust="spacingAndGlyphs">ПС21.1</text>
<text x="1422.1" y="610.7" font-size="11.11" textLength="21.8" lengthAdjust="spacingAndGlyphs">ПС21.1</text>
<text x="1422.1" y="644.3" font-size="11.11" textLength="21.8" lengthAdjust="spacingAndGlyphs">ПС21.1</text>
<text x="1160.5" y="668.8" font-size="8.89" textLength="18.4" lengthAdjust="spacingAndGlyphs">6000</text>
<text x="1262.3" y="668.8" font-size="8.89" textLength="18.4" lengthAdjust="spacingAndGlyphs">1200</text>
<text x="1340.8" y="668.8" font-size="8.89" textLength="18.4" lengthAdjust="spacingAndGlyphs">4600</text>
<text x="1091.5" y="685.7" font-size="8.89" textLength="13.8" lengthAdjust="spacingAndGlyphs">200</text>
<text x="1259.4" y="685.7" font-size="8.89" textLength="13.8" lengthAdjust="spacingAndGlyphs">200</text>
<text x="1388.1" y="685.7" font-size="8.89" textLength="13.8" lengthAdjust="spacingAndGlyphs">200</text>
<text x="1423.4" y="685.7" font-size="8.89" textLength="9.2" lengthAdjust="spacingAndGlyphs">20</text>
<text x="1443.1" y="681.8" font-size="8.89" textLength="13.8" lengthAdjust="spacingAndGlyphs">430</text>
<text x="1118.8" y="701.7" font-size="9.17" textLength="19.2" lengthAdjust="spacingAndGlyphs">3000</text>
<text x="1199.4" y="701.7" font-size="9.17" textLength="19.2" lengthAdjust="spacingAndGlyphs">3000</text>
<text x="1264.2" y="701.7" font-size="9.17" textLength="19.2" lengthAdjust="spacingAndGlyphs">1800</text>
<text x="1305.4" y="701.7" font-size="9.17" textLength="19.2" lengthAdjust="spacingAndGlyphs">1200</text>
<text x="1362.4" y="701.7" font-size="9.17" textLength="19.2" lengthAdjust="spacingAndGlyphs">3000</text>
<text x="1413.8" y="701.7" font-size="9.17" textLength="14.4" lengthAdjust="spacingAndGlyphs">650</text>
<text x="1237.75" y="720.5" font-size="9.17" textLength="24.5" lengthAdjust="spacingAndGlyphs">12000</text>
<text x="1084.5" y="768.25" font-size="13.19" textLength="7" lengthAdjust="spacingAndGlyphs">Е</text>
<text x="1166" y="768.25" font-size="13.19" textLength="7" lengthAdjust="spacingAndGlyphs">Д</text>
<text x="1247" y="768.25" font-size="13.19" textLength="7" lengthAdjust="spacingAndGlyphs">Г</text>
<text x="1294" y="768.25" font-size="13.19" textLength="7" lengthAdjust="spacingAndGlyphs">В</text>
<text x="1329" y="768.25" font-size="13.19" textLength="7" lengthAdjust="spacingAndGlyphs">Б</text>
<text x="1408" y="768.25" font-size="13.19" textLength="7" lengthAdjust="spacingAndGlyphs">А</text>
<text x="1491.1" y="492.6" font-size="11.11" textLength="21.8" lengthAdjust="spacingAndGlyphs">ПС23.1</text>
<text x="1491.1" y="519" font-size="11.11" textLength="21.8" lengthAdjust="spacingAndGlyphs">ПС23.1</text>
<text x="1491.1" y="548.9" font-size="11.11" textLength="21.8" lengthAdjust="spacingAndGlyphs">ПС23.1</text>
<text x="1479.2" y="578.1" font-size="9.17" textLength="14.4" lengthAdjust="spacingAndGlyphs">580</text>
<text x="1513.2" y="584.9" font-size="11.11" textLength="18.4" lengthAdjust="spacingAndGlyphs">ПС20</text>
<text x="1513.2" y="610.3" font-size="11.11" textLength="18.4" lengthAdjust="spacingAndGlyphs">ПС20</text>
<text x="1513.2" y="641.1" font-size="11.11" textLength="18.4" lengthAdjust="spacingAndGlyphs">ПС20</text>
<text x="1555.4" y="623.6" font-size="9.17" textLength="19.6" lengthAdjust="spacingAndGlyphs" transform="rotate(-90 1565.2 620.3)">2590</text>
<text x="1506.1" y="701.7" font-size="9.17" textLength="13.8" lengthAdjust="spacingAndGlyphs">650</text>
<text x="1526.2" y="701.7" font-size="9.17" textLength="18.4" lengthAdjust="spacingAndGlyphs">1050</text>
<text x="1518" y="768.25" font-size="13.19" textLength="7" lengthAdjust="spacingAndGlyphs">А</text>
<text x="72.7" y="774" font-size="9.44" textLength="27.79" lengthAdjust="spacingAndGlyphs">+6,660</text>
<text x="72.7" y="819" font-size="9.44" textLength="27.79" lengthAdjust="spacingAndGlyphs">+6,184</text>
<text x="72.7" y="855.5" font-size="9.44" textLength="27.79" lengthAdjust="spacingAndGlyphs">+4,820</text>
<text x="72.7" y="920.5" font-size="9.44" textLength="27.79" lengthAdjust="spacingAndGlyphs">+2,400</text>
<text x="77.81" y="985.5" font-size="9.44" textLength="22.7" lengthAdjust="spacingAndGlyphs">0,000</text>
<text x="148.1" y="807.1" font-size="11.11" textLength="18.4" lengthAdjust="spacingAndGlyphs">ПС18</text>
<text x="148.1" y="830.8" font-size="11.11" textLength="18.4" lengthAdjust="spacingAndGlyphs">ПС18</text>
<text x="138.8" y="854.5" font-size="11.11" textLength="21.8" lengthAdjust="spacingAndGlyphs">ПС19.2</text>
<text x="121.3" y="894" font-size="11.11" textLength="21.8" lengthAdjust="spacingAndGlyphs">ПС19.1</text>
<text x="182.6" y="894" font-size="11.11" textLength="21.8" lengthAdjust="spacingAndGlyphs">ПС19.1</text>
<text x="151.8" y="928" font-size="11.11" textLength="18.4" lengthAdjust="spacingAndGlyphs">ПС18</text>
<text x="151.8" y="957.7" font-size="11.11" textLength="18.4" lengthAdjust="spacingAndGlyphs">ПС18</text>
<text x="151.8" y="988.5" font-size="8.89" textLength="18.4" lengthAdjust="spacingAndGlyphs">1200</text>
<text x="108.5" y="1005.4" font-size="8.89" textLength="13.8" lengthAdjust="spacingAndGlyphs">450</text>
<text x="199.2" y="1005.4" font-size="8.89" textLength="13.8" lengthAdjust="spacingAndGlyphs">450</text>
<text x="138.4" y="1018.2" font-size="8.89" textLength="13.8" lengthAdjust="spacingAndGlyphs">900</text>
<text x="164" y="1018.2" font-size="8.89" textLength="18.4" lengthAdjust="spacingAndGlyphs">1200</text>
<text x="135.9" y="1035" font-size="8.89" textLength="13.8" lengthAdjust="spacingAndGlyphs">230</text>
<text x="199.2" y="1035" font-size="8.89" textLength="13.8" lengthAdjust="spacingAndGlyphs">230</text>
<text x="119" y="1084.5" font-size="13.89" textLength="6" lengthAdjust="spacingAndGlyphs">3</text>
<text x="154.5" y="1084.5" font-size="13.89" textLength="6" lengthAdjust="spacingAndGlyphs">4</text>
<text x="189.5" y="1084.5" font-size="13.89" textLength="6" lengthAdjust="spacingAndGlyphs">5</text>
<text x="298.5" y="911" font-size="11.11" textLength="21.8" lengthAdjust="spacingAndGlyphs">ПС22.1</text>
<text x="298.5" y="929.3" font-size="11.11" textLength="21.8" lengthAdjust="spacingAndGlyphs">ПС22.1</text>
<text x="298.5" y="961.9" font-size="11.11" textLength="21.8" lengthAdjust="spacingAndGlyphs">ПС22.1</text>
<text x="308.3" y="1018.2" font-size="8.89" textLength="18.4" lengthAdjust="spacingAndGlyphs">1050</text>
<text x="341" y="1035.5" font-size="8.89" textLength="13.8" lengthAdjust="spacingAndGlyphs">200</text>
<text x="328" y="1084.25" font-size="13.19" textLength="7" lengthAdjust="spacingAndGlyphs">А</text>
<text x="448.8" y="936" font-size="11.11" textLength="18.4" lengthAdjust="spacingAndGlyphs">ПС17</text>
<text x="478.5" y="936" font-size="11.11" textLength="18.4" lengthAdjust="spacingAndGlyphs">ПС17</text>
<text x="408" y="941.3" font-size="9.17" textLength="19.6" lengthAdjust="spacingAndGlyphs" transform="rotate(-90 417.8 938)">2980</text>
<text x="461.7" y="991" font-size="9.17" textLength="19.6" lengthAdjust="spacingAndGlyphs">2270</text>
<text x="503.12" y="876.2" font-size="10" textLength="80.75" lengthAdjust="spacingAndGlyphs">Потолочные панели</text>
</g>
</svg></body></html>
